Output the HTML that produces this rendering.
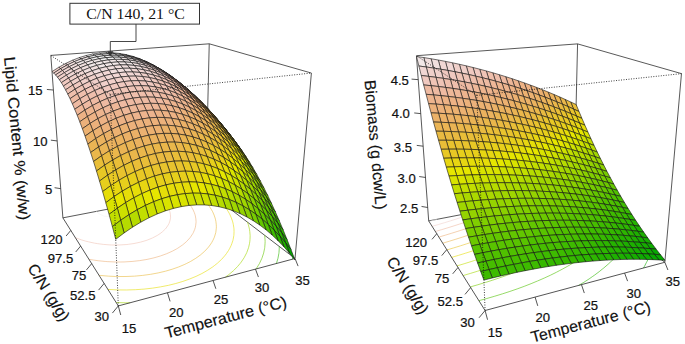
<!DOCTYPE html><html><head><meta charset="utf-8"><style>html,body{margin:0;padding:0;background:#fff}svg{display:block}</style></head><body><svg width="685" height="344" viewBox="0 0 685 344">
<rect width="685" height="344" fill="#fff"/>
<g stroke="#2e2e2e" stroke-width="0.8" fill="none">
<line x1="62.88" y1="217.85" x2="50.82" y2="55.42" />
<line x1="50.82" y1="55.42" x2="209.24" y2="43.81" />
<line x1="209.24" y1="43.81" x2="311.40" y2="73.05" />
<line x1="295.04" y1="258.51" x2="311.40" y2="73.05" />
<line x1="205.76" y1="190.29" x2="209.24" y2="43.81" />
<line x1="62.88" y1="217.85" x2="205.76" y2="190.29" />
<line x1="205.76" y1="190.29" x2="295.04" y2="258.51" />
</g>
<g fill="none" stroke-opacity="0.85" stroke-width="0.7">
<polyline stroke="#00a600" points="292.41,259.22 292.69,256.72"/>
<polyline stroke="#2db600" points="276.42,263.51 277.95,258.35 278.01,258.11 278.84,253.51 278.99,252.43 279.23,248.94 279.28,246.47"/>
<polyline stroke="#63c600" points="256.04,268.98 256.58,268.22 259.50,263.43 259.62,263.19 261.85,258.40 262.05,257.88 263.63,253.11 263.67,252.93 264.62,248.30 264.73,247.52 265.03,243.93 265.11,241.60 265.05,239.79 264.72,235.85 264.64,235.28"/>
<polyline stroke="#a0d600" points="116.20,302.59 125.80,302.80 130.14,302.75"/>
<polyline stroke="#a0d600" points="225.32,277.22 228.98,274.49 233.54,270.61 234.29,269.88 237.61,266.46 240.01,263.61 241.21,262.09 243.97,257.98 244.28,257.48 246.66,252.83 246.77,252.58 248.42,248.07 248.63,247.38 249.49,243.61 249.78,241.83 250.02,239.41 250.14,235.89 250.13,235.42 249.81,231.64 249.47,229.40 249.20,228.04 248.29,224.60 247.49,222.18"/>
<polyline stroke="#e6dd09" points="107.91,289.42 117.33,289.90 119.27,289.93 126.50,289.97 135.42,289.70 141.21,289.31 144.09,289.10 152.45,288.15 160.53,286.89 168.30,285.35 175.74,283.52 182.84,281.41 189.58,279.03 195.96,276.40 201.96,273.52 201.98,273.50 207.51,270.34 212.66,266.94 214.53,265.52 217.35,263.27 221.58,259.36 221.82,259.10 225.27,255.15 226.47,253.53 228.42,250.66 229.65,248.47 230.96,245.85 231.77,243.82 232.82,240.69 233.12,239.47 233.87,235.39 233.90,235.10 234.04,231.55 233.97,228.94 233.87,227.90 233.31,224.42 232.75,222.02 232.48,221.10 231.35,217.93 230.03,214.88 229.48,213.80 228.47,211.96 226.72,209.15 224.81,206.44 222.76,203.83 221.33,202.19"/>
<polyline stroke="#e9ba41" points="99.04,275.31 100.80,275.49 108.29,276.13 115.50,276.47 117.31,276.53 126.05,276.51 134.53,276.15 136.11,276.01 142.70,275.40 150.57,274.32 158.12,272.93 165.33,271.23 172.19,269.23 178.69,266.94 184.79,264.37 186.70,263.43 190.47,261.50 195.71,258.34 199.06,255.98 200.51,254.90 204.79,251.16 205.82,250.09 208.51,247.08 210.10,244.96 211.65,242.67 212.93,240.32 214.10,237.85 214.76,236.03 215.75,232.58 215.86,232.02 216.31,228.26 216.37,226.66 216.29,224.71 215.89,221.33 215.59,219.85 215.14,218.12 214.08,215.05 212.80,212.10 212.44,211.40 211.24,209.28 209.47,206.58 207.52,203.97 205.40,201.46 203.11,199.05 200.66,196.72 198.06,194.47 195.30,192.30"/>
<polyline stroke="#ecb17b" points="88.95,259.28 93.47,260.04 98.18,260.72 105.19,261.45 107.11,261.61 115.73,261.99 120.79,261.99 124.05,261.94 132.04,261.46 139.71,260.62 147.04,259.41 154.00,257.84 160.57,255.93 166.74,253.68 172.49,251.11 176.67,248.85 177.78,248.21 182.55,244.94 184.95,242.94 186.77,241.31 189.81,237.98 190.39,237.27 192.81,233.57 193.27,232.75 194.63,229.54 195.25,227.64 195.64,225.79 196.06,222.26 196.07,221.74 195.88,218.95 195.34,215.80 194.96,214.43 194.41,212.80 193.14,209.95 191.62,207.22 189.87,204.60 188.56,202.94 187.86,202.09 185.61,199.69 183.16,197.38 180.51,195.16"/>
<polyline stroke="#efc4b6" points="75.40,237.75 81.58,239.91 85.25,241.02 88.83,241.92 94.48,243.14 97.64,243.65 103.22,244.39 109.05,244.85 111.54,244.99 119.43,244.98 126.95,244.51 128.35,244.32 134.02,243.52 140.67,242.10 146.88,240.25 147.28,240.10 152.56,237.94 157.71,235.19 160.01,233.63 162.25,231.96 165.39,228.93 166.07,228.17 168.29,224.87 168.94,223.65 169.83,221.20 170.53,218.12 170.56,217.80 170.43,214.65 169.88,211.66 169.43,210.36 168.81,208.85 167.31,206.19 165.48,203.66 163.32,201.25 160.85,198.95"/>
<polyline stroke="#f2f2f2" points="96.25,211.41 98.92,213.81 103.49,215.89 104.49,216.16 112.07,216.73 118.08,215.42 122.35,212.18 122.36,212.17 122.26,209.26 120.49,206.73"/>
</g>
<g stroke="#111" stroke-width="0.6" stroke-linejoin="round">
<polygon fill="#e7cf1c" points="205.18,112.17 210.43,119.25 207.48,117.77 202.25,110.73"/>
<polygon fill="#e8c32e" points="199.82,105.43 205.18,112.17 202.25,110.73 196.92,104.03"/>
<polygon fill="#e7cf1c" points="208.16,113.91 213.43,121.03 210.43,119.25 205.18,112.17"/>
<polygon fill="#eab74b" points="194.36,99.03 199.82,105.43 196.92,104.03 191.48,97.67"/>
<polygon fill="#e8c32e" points="202.78,107.13 208.16,113.91 205.18,112.17 199.82,105.43"/>
<polygon fill="#e7cf1c" points="211.19,115.96 216.48,123.12 213.43,121.03 208.16,113.91"/>
<polygon fill="#ebb25e" points="188.78,92.98 194.36,99.03 191.48,97.67 185.94,91.67"/>
<polygon fill="#eab74b" points="197.29,100.69 202.78,107.13 199.82,105.43 194.36,99.03"/>
<polygon fill="#e7d612" points="214.27,118.32 219.58,125.52 216.48,123.12 211.19,115.96"/>
<polygon fill="#e8c32e" points="205.79,109.14 211.19,115.96 208.16,113.91 202.78,107.13"/>
<polygon fill="#ecb171" points="183.11,87.32 188.78,92.98 185.94,91.67 180.29,86.04"/>
<polygon fill="#ebb25e" points="191.69,94.61 197.29,100.69 194.36,99.03 188.78,92.98"/>
<polygon fill="#e7d612" points="217.40,121.01 222.73,128.23 219.58,125.52 214.27,118.32"/>
<polygon fill="#eab74b" points="200.27,102.66 205.79,109.14 202.78,107.13 197.29,100.69"/>
<polygon fill="#e8c32e" points="208.84,111.47 214.27,118.32 211.19,115.96 205.79,109.14"/>
<polygon fill="#edb285" points="177.33,82.04 183.11,87.32 180.29,86.04 174.55,80.79"/>
<polygon fill="#ecb171" points="185.98,88.91 191.69,94.61 188.78,92.98 183.11,87.32"/>
<polygon fill="#e7d612" points="220.58,124.02 225.93,131.28 222.73,128.23 217.40,121.01"/>
<polygon fill="#ebb25e" points="194.64,96.55 200.27,102.66 197.29,100.69 191.69,94.61"/>
<polygon fill="#e8c32e" points="211.95,114.12 217.40,121.01 214.27,118.32 208.84,111.47"/>
<polygon fill="#e9ba41" points="203.30,104.96 208.84,111.47 205.79,109.14 200.27,102.66"/>
<polygon fill="#eeb798" points="171.46,77.17 177.33,82.04 174.55,80.79 168.71,75.95"/>
<polygon fill="#edb285" points="180.17,83.61 185.98,88.91 183.11,87.32 177.33,82.04"/>
<polygon fill="#ecb171" points="188.90,90.83 194.64,96.55 191.69,94.61 185.98,88.91"/>
<polygon fill="#e6dd09" points="223.81,127.38 229.17,134.65 225.93,131.28 220.58,124.02"/>
<polygon fill="#ebb25e" points="197.65,98.82 203.30,104.96 200.27,102.66 194.64,96.55"/>
<polygon fill="#e8c825" points="215.11,117.11 220.58,124.02 217.40,121.01 211.95,114.12"/>
<polygon fill="#e9ba41" points="206.39,107.59 211.95,114.12 208.84,111.47 203.30,104.96"/>
<polygon fill="#eebaa2" points="165.48,72.73 171.46,77.17 168.71,75.95 162.78,71.53"/>
<polygon fill="#eeb798" points="174.26,78.71 180.17,83.61 177.33,82.04 171.46,77.17"/>
<polygon fill="#edb285" points="183.06,85.50 188.90,90.83 185.98,88.91 180.17,83.61"/>
<polygon fill="#e6dd09" points="227.09,131.08 232.47,138.37 229.17,134.65 223.81,127.38"/>
<polygon fill="#ecb171" points="191.88,93.07 197.65,98.82 194.64,96.55 188.90,90.83"/>
<polygon fill="#e8c825" points="218.32,120.45 223.81,127.38 220.58,124.02 215.11,117.11"/>
<polygon fill="#eab454" points="200.71,101.43 206.39,107.59 203.30,104.96 197.65,98.82"/>
<polygon fill="#e9ba41" points="209.52,110.56 215.11,117.11 211.95,114.12 206.39,107.59"/>
<polygon fill="#efc4b6" points="159.42,68.71 165.48,72.73 162.78,71.53 156.76,67.54"/>
<polygon fill="#eebaa2" points="168.25,74.24 174.26,78.71 171.46,77.17 165.48,72.73"/>
<polygon fill="#eeb798" points="177.11,80.58 183.06,85.50 180.17,83.61 174.26,78.71"/>
<polygon fill="#e6e600" points="230.41,135.13 235.81,142.44 232.47,138.37 227.09,131.08"/>
<polygon fill="#edb285" points="186.01,87.72 191.88,93.07 188.90,90.83 183.06,85.50"/>
<polygon fill="#e7cf1c" points="221.58,124.13 227.09,131.08 223.81,127.38 218.32,120.45"/>
<polygon fill="#ebb167" points="194.91,95.65 200.71,101.43 197.65,98.82 191.88,93.07"/>
<polygon fill="#e9be38" points="212.71,113.87 218.32,120.45 215.11,117.11 209.52,110.56"/>
<polygon fill="#eab454" points="203.82,104.37 209.52,110.56 206.39,107.59 200.71,101.43"/>
<polygon fill="#f0c9c0" points="153.27,65.15 159.42,68.71 156.76,67.54 150.65,63.99"/>
<polygon fill="#efc4b6" points="162.15,70.21 168.25,74.24 165.48,72.73 159.42,68.71"/>
<polygon fill="#eebaa2" points="171.07,76.08 177.11,80.58 174.26,78.71 168.25,74.24"/>
<polygon fill="#d9e300" points="233.79,139.54 239.19,146.86 235.81,142.44 230.41,135.13"/>
<polygon fill="#edb48e" points="180.03,82.78 186.01,87.72 183.06,85.50 177.11,80.58"/>
<polygon fill="#f0d0ca" points="147.04,62.04 153.27,65.15 150.65,63.99 144.46,60.90"/>
<polygon fill="#e7cf1c" points="224.89,128.17 230.41,135.13 227.09,131.08 221.58,124.13"/>
<polygon fill="#ecb17b" points="189.01,90.28 194.91,95.65 191.88,93.07 186.01,87.72"/>
<polygon fill="#e9be38" points="215.95,117.54 221.58,124.13 218.32,120.45 212.71,113.87"/>
<polygon fill="#ebb167" points="198.00,98.58 203.82,104.37 200.71,101.43 194.91,95.65"/>
<polygon fill="#eab74b" points="206.98,107.67 212.71,113.87 209.52,110.56 203.82,104.37"/>
<polygon fill="#f0c9c0" points="155.95,66.62 162.15,70.21 159.42,68.71 153.27,65.15"/>
<polygon fill="#efc4b6" points="164.93,72.03 171.07,76.08 168.25,74.24 162.15,70.21"/>
<polygon fill="#f1d7d4" points="140.72,59.41 147.04,62.04 144.46,60.90 138.19,58.28"/>
<polygon fill="#eebaa2" points="173.94,78.27 180.03,82.78 177.11,80.58 171.07,76.08"/>
<polygon fill="#cee000" points="237.21,144.32 242.63,151.64 239.19,146.86 233.79,139.54"/>
<polygon fill="#edb48e" points="182.99,85.32 189.01,90.28 186.01,87.72 180.03,82.78"/>
<polygon fill="#e7d612" points="228.25,132.57 233.79,139.54 230.41,135.13 224.89,128.17"/>
<polygon fill="#ecb17b" points="192.06,93.19 198.00,98.58 194.91,95.65 189.01,90.28"/>
<polygon fill="#e8c32e" points="219.24,121.56 224.89,128.17 221.58,124.13 215.95,117.54"/>
<polygon fill="#f0d0ca" points="149.67,63.51 155.95,66.62 153.27,65.15 147.04,62.04"/>
<polygon fill="#ebb25e" points="201.14,101.86 206.98,107.67 203.82,104.37 198.00,98.58"/>
<polygon fill="#eab74b" points="210.20,111.32 215.95,117.54 212.71,113.87 206.98,107.67"/>
<polygon fill="#f0c9c0" points="158.69,68.44 164.93,72.03 162.15,70.21 155.95,66.62"/>
<polygon fill="#f1dfde" points="134.33,57.27 140.72,59.41 138.19,58.28 131.85,56.15"/>
<polygon fill="#efbfac" points="167.76,74.20 173.94,78.27 171.07,76.08 164.93,72.03"/>
<polygon fill="#cee000" points="240.67,149.47 246.10,156.79 242.63,151.64 237.21,144.32"/>
<polygon fill="#f1d7d4" points="143.31,60.87 149.67,63.51 147.04,62.04 140.72,59.41"/>
<polygon fill="#eebaa2" points="176.88,80.80 182.99,85.32 180.03,82.78 173.94,78.27"/>
<polygon fill="#e6dd09" points="231.66,137.34 237.21,144.32 233.79,139.54 228.25,132.57"/>
<polygon fill="#edb48e" points="186.02,88.22 192.06,93.19 189.01,90.28 182.99,85.32"/>
<polygon fill="#e8c825" points="222.58,125.96 228.25,132.57 224.89,128.17 219.24,121.56"/>
<polygon fill="#ecb171" points="195.17,96.45 201.14,101.86 198.00,98.58 192.06,93.19"/>
<polygon fill="#e9ba41" points="213.47,115.34 219.24,121.56 215.95,117.54 210.20,111.32"/>
<polygon fill="#ebb25e" points="204.33,105.50 210.20,111.32 206.98,107.67 201.14,101.86"/>
<polygon fill="#f2e8e8" points="127.87,55.63 134.33,57.27 131.85,56.15 125.45,54.50"/>
<polygon fill="#f0d0ca" points="152.37,65.31 158.69,68.44 155.95,66.62 149.67,63.51"/>
<polygon fill="#f0c9c0" points="161.49,70.60 167.76,74.20 164.93,72.03 158.69,68.44"/>
<polygon fill="#f1dfde" points="136.87,58.73 143.31,60.87 140.72,59.41 134.33,57.27"/>
<polygon fill="#c2de00" points="244.19,155.00 249.62,162.32 246.10,156.79 240.67,149.47"/>
<polygon fill="#efbfac" points="170.66,76.72 176.88,80.80 173.94,78.27 167.76,74.20"/>
<polygon fill="#f2e8e8" points="121.35,54.49 127.87,55.63 125.45,54.50 118.97,53.37"/>
<polygon fill="#e6e600" points="235.11,142.50 240.67,149.47 237.21,144.32 231.66,137.34"/>
<polygon fill="#eeb798" points="179.86,83.68 186.02,88.22 182.99,85.32 176.88,80.80"/>
<polygon fill="#f1d7d4" points="145.96,62.67 152.37,65.31 149.67,63.51 143.31,60.87"/>
<polygon fill="#e7cf1c" points="225.97,130.73 231.66,137.34 228.25,132.57 222.58,125.96"/>
<polygon fill="#edb285" points="189.10,91.47 195.17,96.45 192.06,93.19 186.02,88.22"/>
<polygon fill="#e9be38" points="216.79,119.73 222.58,125.96 219.24,121.56 213.47,115.34"/>
<polygon fill="#ecb171" points="198.34,100.09 204.33,105.50 201.14,101.86 195.17,96.45"/>
<polygon fill="#eab454" points="207.57,109.51 213.47,115.34 210.20,111.32 204.33,105.50"/>
<polygon fill="#f2e8e8" points="130.36,57.09 136.87,58.73 134.33,57.27 127.87,55.63"/>
<polygon fill="#f0d0ca" points="155.12,67.47 161.49,70.60 158.69,68.44 152.37,65.31"/>
<polygon fill="#f2f2f2" points="114.76,53.88 121.35,54.49 118.97,53.37 112.44,52.74"/>
<polygon fill="#abd800" points="247.74,160.92 253.19,168.22 249.62,162.32 244.19,155.00"/>
<polygon fill="#efc4b6" points="164.34,73.11 170.66,76.72 167.76,74.20 161.49,70.60"/>
<polygon fill="#f1dfde" points="139.47,60.53 145.96,62.67 143.31,60.87 136.87,58.73"/>
<polygon fill="#d9e300" points="238.61,148.04 244.19,155.00 240.67,149.47 235.11,142.50"/>
<polygon fill="#efbfac" points="173.61,79.60 179.86,83.68 176.88,80.80 170.66,76.72"/>
<polygon fill="#f2e8e8" points="123.78,55.96 130.36,57.09 127.87,55.63 121.35,54.49"/>
<polygon fill="#e7d612" points="229.41,135.89 235.11,142.50 231.66,137.34 225.97,130.73"/>
<polygon fill="#eeb798" points="182.91,86.93 189.10,91.47 186.02,88.22 179.86,83.68"/>
<polygon fill="#f2f2f2" points="108.12,53.80 114.76,53.88 112.44,52.74 105.86,52.65"/>
<polygon fill="#e9be38" points="220.16,124.51 225.97,130.73 222.58,125.96 216.79,119.73"/>
<polygon fill="#edb285" points="192.23,95.10 198.34,100.09 195.17,96.45 189.10,91.47"/>
<polygon fill="#f1d7d4" points="148.67,64.82 155.12,67.47 152.37,65.31 145.96,62.67"/>
<polygon fill="#eab74b" points="210.87,113.90 216.79,119.73 213.47,115.34 207.57,109.51"/>
<polygon fill="#ebb167" points="201.56,104.09 207.57,109.51 204.33,105.50 198.34,100.09"/>
<polygon fill="#f0d0ca" points="157.93,69.98 164.34,73.11 161.49,70.60 155.12,67.47"/>
<polygon fill="#f2e8e8" points="132.91,58.89 139.47,60.53 136.87,58.73 130.36,57.09"/>
<polygon fill="#a0d600" points="251.35,167.23 256.80,174.52 253.19,168.22 247.74,160.92"/>
<polygon fill="#f2f2f2" points="117.14,55.36 123.78,55.96 121.35,54.49 114.76,53.88"/>
<polygon fill="#f2f2f2" points="101.43,54.25 108.12,53.80 105.86,52.65 99.23,53.08"/>
<polygon fill="#efc4b6" points="167.25,75.98 173.61,79.60 170.66,76.72 164.34,73.11"/>
<polygon fill="#cee000" points="242.16,153.97 247.74,160.92 244.19,155.00 238.61,148.04"/>
<polygon fill="#f1dfde" points="142.13,62.68 148.67,64.82 145.96,62.67 139.47,60.53"/>
<polygon fill="#eebaa2" points="176.62,82.85 182.91,86.93 179.86,83.68 173.61,79.60"/>
<polygon fill="#e6dd09" points="232.90,141.44 238.61,148.04 235.11,142.50 229.41,135.89"/>
<polygon fill="#edb48e" points="186.01,90.56 192.23,95.10 189.10,91.47 182.91,86.93"/>
<polygon fill="#e8c32e" points="223.58,129.67 229.41,135.89 225.97,130.73 220.16,124.51"/>
<polygon fill="#ecb17b" points="195.42,99.11 201.56,104.09 198.34,100.09 192.23,95.10"/>
<polygon fill="#f2e8e8" points="126.28,57.77 132.91,58.89 130.36,57.09 123.78,55.96"/>
<polygon fill="#eab74b" points="214.22,118.68 220.16,124.51 216.79,119.73 210.87,113.90"/>
<polygon fill="#ebb25e" points="204.83,108.48 210.87,113.90 207.57,109.51 201.56,104.09"/>
<polygon fill="#f2f2f2" points="94.70,55.26 101.43,54.25 99.23,53.08 92.56,54.06"/>
<polygon fill="#f1d7d4" points="151.43,67.33 157.93,69.98 155.12,67.47 148.67,64.82"/>
<polygon fill="#f2f2f2" points="110.44,55.29 117.14,55.36 114.76,53.88 108.12,53.80"/>
<polygon fill="#95d300" points="254.99,173.95 260.45,181.21 256.80,174.52 251.35,167.23"/>
<polygon fill="#f0c9c0" points="160.80,72.85 167.25,75.98 164.34,73.11 157.93,69.98"/>
<polygon fill="#f1dfde" points="135.52,61.05 142.13,62.68 139.47,60.53 132.91,58.89"/>
<polygon fill="#c2de00" points="245.75,160.30 251.35,167.23 247.74,160.92 242.16,153.97"/>
<polygon fill="#f2f2f2" points="87.93,56.81 94.70,55.26 92.56,54.06 85.85,55.58"/>
<polygon fill="#efbfac" points="170.22,79.23 176.62,82.85 173.61,79.60 167.25,75.98"/>
<polygon fill="#f2f2f2" points="119.58,57.19 126.28,57.77 123.78,55.96 117.14,55.36"/>
<polygon fill="#f2f2f2" points="103.69,55.77 110.44,55.29 108.12,53.80 101.43,54.25"/>
<polygon fill="#e6e600" points="236.43,147.38 242.16,153.97 238.61,148.04 232.90,141.44"/>
<polygon fill="#eebaa2" points="179.68,86.47 186.01,90.56 182.91,86.93 176.62,82.85"/>
<polygon fill="#f1d7d4" points="144.85,65.20 151.43,67.33 148.67,64.82 142.13,62.68"/>
<polygon fill="#e8c825" points="227.05,135.23 232.90,141.44 229.41,135.89 223.58,129.67"/>
<polygon fill="#edb285" points="189.17,94.56 195.42,99.11 192.23,95.10 186.01,90.56"/>
<polygon fill="#e9ba41" points="217.62,123.85 223.58,129.67 220.16,124.51 214.22,118.68"/>
<polygon fill="#ecb171" points="198.66,103.50 204.83,108.48 201.56,104.09 195.42,99.11"/>
<polygon fill="#ebb25e" points="208.15,113.27 214.22,118.68 210.87,113.90 204.83,108.48"/>
<polygon fill="#f2e8e8" points="81.13,58.93 87.93,56.81 85.85,55.58 79.12,57.66"/>
<polygon fill="#8bd000" points="258.67,181.06 264.13,188.30 260.45,181.21 254.99,173.95"/>
<polygon fill="#f2e8e8" points="128.83,59.94 135.52,61.05 132.91,58.89 126.28,57.77"/>
<polygon fill="#f0d0ca" points="154.26,70.21 160.80,72.85 157.93,69.98 151.43,67.33"/>
<polygon fill="#f2f2f2" points="96.90,56.80 103.69,55.77 101.43,54.25 94.70,55.26"/>
<polygon fill="#f2f2f2" points="112.82,57.14 119.58,57.19 117.14,55.36 110.44,55.29"/>
<polygon fill="#abd800" points="249.39,167.03 254.99,173.95 251.35,167.23 245.75,160.30"/>
<polygon fill="#f0c9c0" points="163.73,76.10 170.22,79.23 167.25,75.98 160.80,72.85"/>
<polygon fill="#f2e8e8" points="74.30,61.61 81.13,58.93 79.12,57.66 72.36,60.29"/>
<polygon fill="#f1dfde" points="138.19,63.58 144.85,65.20 142.13,62.68 135.52,61.05"/>
<polygon fill="#d9e300" points="240.01,153.73 245.75,160.30 242.16,153.97 236.43,147.38"/>
<polygon fill="#efbfac" points="173.25,82.86 179.68,86.47 176.62,82.85 170.22,79.23"/>
<polygon fill="#f2f2f2" points="90.07,58.39 96.90,56.80 94.70,55.26 87.93,56.81"/>
<polygon fill="#f2e8e8" points="122.08,59.38 128.83,59.94 126.28,57.77 119.58,57.19"/>
<polygon fill="#e7d612" points="230.57,141.19 236.43,147.38 232.90,141.44 227.05,135.23"/>
<polygon fill="#eeb798" points="182.81,90.48 189.17,94.56 186.01,90.56 179.68,86.47"/>
<polygon fill="#f2f2f2" points="106.02,57.64 112.82,57.14 110.44,55.29 103.69,55.77"/>
<polygon fill="#f1dfde" points="67.46,64.85 74.30,61.61 72.36,60.29 65.59,63.49"/>
<polygon fill="#e9be38" points="221.07,129.42 227.05,135.23 223.58,129.67 217.62,123.85"/>
<polygon fill="#f1d7d4" points="147.63,68.08 154.26,70.21 151.43,67.33 144.85,65.20"/>
<polygon fill="#edb285" points="192.38,98.96 198.66,103.50 195.42,99.11 189.17,94.56"/>
<polygon fill="#76cb00" points="262.40,188.59 267.86,195.79 264.13,188.30 258.67,181.06"/>
<polygon fill="#eab454" points="211.53,118.44 217.62,123.85 214.22,118.68 208.15,113.27"/>
<polygon fill="#ebb167" points="201.96,108.29 208.15,113.27 204.83,108.48 198.66,103.50"/>
<polygon fill="#f2e8e8" points="83.20,60.55 90.07,58.39 87.93,56.81 81.13,58.93"/>
<polygon fill="#f1d7d4" points="60.61,68.67 67.46,64.85 65.59,63.49 58.80,67.25"/>
<polygon fill="#f0d0ca" points="157.14,73.47 163.73,76.10 160.80,72.85 154.26,70.21"/>
<polygon fill="#f2e8e8" points="131.45,62.49 138.19,63.58 135.52,61.05 128.83,59.94"/>
<polygon fill="#a0d600" points="253.07,174.18 258.67,181.06 254.99,173.95 249.39,167.03"/>
<polygon fill="#f2f2f2" points="99.16,58.71 106.02,57.64 103.69,55.77 96.90,56.80"/>
<polygon fill="#f2f2f2" points="115.27,59.35 122.08,59.38 119.58,57.19 112.82,57.14"/>
<polygon fill="#efc4b6" points="166.72,79.74 173.25,82.86 170.22,79.23 163.73,76.10"/>
<polygon fill="#cee000" points="243.64,160.50 249.39,167.03 245.75,160.30 240.01,153.73"/>
<polygon fill="#f0d0ca" points="53.76,73.06 60.61,68.67 58.80,67.25 52.02,71.58"/>
<polygon fill="#f2e8e8" points="76.31,63.27 83.20,60.55 81.13,58.93 74.30,61.61"/>
<polygon fill="#f1dfde" points="140.92,66.48 147.63,68.08 144.85,65.20 138.19,63.58"/>
<polygon fill="#eebaa2" points="176.34,86.88 182.81,90.48 179.68,86.47 173.25,82.86"/>
<polygon fill="#e6dd09" points="234.14,147.56 240.01,153.73 236.43,147.38 230.57,141.19"/>
<polygon fill="#6cc800" points="266.16,196.53 271.63,203.69 267.86,195.79 262.40,188.59"/>
<polygon fill="#edb48e" points="185.99,94.89 192.38,98.96 189.17,94.56 182.81,90.48"/>
<polygon fill="#e8c32e" points="224.57,135.40 230.57,141.19 227.05,135.23 221.07,129.42"/>
<polygon fill="#f2f2f2" points="92.27,60.33 99.16,58.71 96.90,56.80 90.07,58.39"/>
<polygon fill="#f2e8e8" points="124.64,61.94 131.45,62.49 128.83,59.94 122.08,59.38"/>
<polygon fill="#ecb17b" points="195.65,103.76 201.96,108.29 198.66,103.50 192.38,98.96"/>
<polygon fill="#eab74b" points="214.96,124.03 221.07,129.42 217.62,123.85 211.53,118.44"/>
<polygon fill="#ebb25e" points="205.31,113.48 211.53,118.44 208.15,113.27 201.96,108.29"/>
<polygon fill="#f2f2f2" points="108.40,59.88 115.27,59.35 112.82,57.14 106.02,57.64"/>
<polygon fill="#f0d0ca" points="150.47,71.35 157.14,73.47 154.26,70.21 147.63,68.08"/>
<polygon fill="#f1dfde" points="69.40,66.57 76.31,63.27 74.30,61.61 67.46,64.85"/>
<polygon fill="#95d300" points="256.79,181.74 262.40,188.59 258.67,181.06 253.07,174.18"/>
<polygon fill="#f0c9c0" points="160.09,77.12 166.72,79.74 163.73,76.10 157.14,73.47"/>
<polygon fill="#f1dfde" points="134.13,65.40 140.92,66.48 138.19,63.58 131.45,62.49"/>
<polygon fill="#f2e8e8" points="85.34,62.53 92.27,60.33 90.07,58.39 83.20,60.55"/>
<polygon fill="#f1d7d4" points="62.48,70.45 69.40,66.57 67.46,64.85 60.61,68.67"/>
<polygon fill="#b6db00" points="247.31,167.67 253.07,174.18 249.39,167.03 243.64,160.50"/>
<polygon fill="#f2e8e8" points="117.77,61.94 124.64,61.94 122.08,59.38 115.27,59.35"/>
<polygon fill="#f2f2f2" points="101.49,60.98 108.40,59.88 106.02,57.64 99.16,58.71"/>
<polygon fill="#efbfac" points="169.77,83.77 176.34,86.88 173.25,82.86 166.72,79.74"/>
<polygon fill="#59c300" points="269.97,204.89 275.43,212.00 271.63,203.69 266.16,196.53"/>
<polygon fill="#e6e600" points="237.75,154.35 243.64,160.50 240.01,153.73 234.14,147.56"/>
<polygon fill="#f0d0ca" points="55.56,74.90 62.48,70.45 60.61,68.67 53.76,73.06"/>
<polygon fill="#eeb798" points="179.48,91.30 185.99,94.89 182.81,90.48 176.34,86.88"/>
<polygon fill="#f1d7d4" points="143.71,69.76 150.47,71.35 147.63,68.08 140.92,66.48"/>
<polygon fill="#e7cf1c" points="228.12,141.79 234.14,147.56 230.57,141.19 224.57,135.40"/>
<polygon fill="#f2e8e8" points="78.38,65.30 85.34,62.53 83.20,60.55 76.31,63.27"/>
<polygon fill="#edb285" points="189.23,99.70 195.65,103.76 192.38,98.96 185.99,94.89"/>
<polygon fill="#e9be38" points="218.44,130.03 224.57,135.40 221.07,129.42 214.96,124.03"/>
<polygon fill="#ecb171" points="198.98,108.96 205.31,113.48 201.96,108.29 195.65,103.76"/>
<polygon fill="#eab454" points="208.72,119.08 214.96,124.03 211.53,118.44 205.31,113.48"/>
<polygon fill="#80ce00" points="260.55,189.73 266.16,196.53 262.40,188.59 256.79,181.74"/>
<polygon fill="#f2e8e8" points="127.27,64.88 134.13,65.40 131.45,62.49 124.64,61.94"/>
<polygon fill="#f2e8e8" points="94.53,62.64 101.49,60.98 99.16,58.71 92.27,60.33"/>
<polygon fill="#f0d0ca" points="153.37,75.02 160.09,77.12 157.14,73.47 150.47,71.35"/>
<polygon fill="#f2e8e8" points="110.85,62.50 117.77,61.94 115.27,59.35 108.40,59.88"/>
<polygon fill="#f1dfde" points="71.41,68.65 78.38,65.30 76.31,63.27 69.40,66.57"/>
<polygon fill="#abd800" points="251.02,175.27 256.79,181.74 253.07,174.18 247.31,167.67"/>
<polygon fill="#efc4b6" points="163.09,81.16 169.77,83.77 166.72,79.74 160.09,77.12"/>
<polygon fill="#47be00" points="273.80,213.68 279.26,220.73 275.43,212.00 269.97,204.89"/>
<polygon fill="#f1dfde" points="136.87,68.71 143.71,69.76 140.92,66.48 134.13,65.40"/>
<polygon fill="#d9e300" points="241.41,161.56 247.31,167.67 243.64,160.50 237.75,154.35"/>
<polygon fill="#f2e8e8" points="87.54,64.88 94.53,62.64 92.27,60.33 85.34,62.53"/>
<polygon fill="#f1d7d4" points="64.42,72.59 71.41,68.65 69.40,66.57 62.48,70.45"/>
<polygon fill="#efbfac" points="172.87,88.20 179.48,91.30 176.34,86.88 169.77,83.77"/>
<polygon fill="#f2e8e8" points="120.34,64.90 127.27,64.88 124.64,61.94 117.77,61.94"/>
<polygon fill="#f2e8e8" points="103.87,63.63 110.85,62.50 108.40,59.88 101.49,60.98"/>
<polygon fill="#e7d612" points="231.72,148.61 237.75,154.35 234.14,147.56 228.12,141.79"/>
<polygon fill="#eeb798" points="182.69,96.12 189.23,99.70 185.99,94.89 179.48,91.30"/>
<polygon fill="#6cc800" points="264.35,198.14 269.97,204.89 266.16,196.53 260.55,189.73"/>
<polygon fill="#e8c32e" points="221.97,136.45 228.12,141.79 224.57,135.40 218.44,130.03"/>
<polygon fill="#f1d7d4" points="146.56,73.44 153.37,75.02 150.47,71.35 143.71,69.76"/>
<polygon fill="#ecb17b" points="192.52,104.92 198.98,108.96 195.65,103.76 189.23,99.70"/>
<polygon fill="#eab74b" points="212.18,125.10 218.44,130.03 214.96,124.03 208.72,119.08"/>
<polygon fill="#ebb167" points="202.35,114.59 208.72,119.08 205.31,113.48 198.98,108.96"/>
<polygon fill="#f0d0ca" points="57.43,77.10 64.42,72.59 62.48,70.45 55.56,74.90"/>
<polygon fill="#f1dfde" points="80.52,67.70 87.54,64.88 85.34,62.53 78.38,65.30"/>
<polygon fill="#95d300" points="254.78,183.30 260.55,189.73 256.79,181.74 251.02,175.27"/>
<polygon fill="#f1dfde" points="129.96,68.21 136.87,68.71 134.13,65.40 127.27,64.88"/>
<polygon fill="#f0c9c0" points="156.33,79.08 163.09,81.16 160.09,77.12 153.37,75.02"/>
<polygon fill="#36b800" points="277.68,222.89 283.13,229.89 279.26,220.73 273.80,213.68"/>
<polygon fill="#f2e8e8" points="96.86,65.33 103.87,63.63 101.49,60.98 94.53,62.64"/>
<polygon fill="#f2e8e8" points="113.36,65.50 120.34,64.90 117.77,61.94 110.85,62.50"/>
<polygon fill="#f1dfde" points="73.47,71.11 80.52,67.70 78.38,65.30 71.41,68.65"/>
<polygon fill="#c2de00" points="245.11,169.20 251.02,175.27 247.31,167.67 241.41,161.56"/>
<polygon fill="#efc4b6" points="166.16,85.61 172.87,88.20 169.77,83.77 163.09,81.16"/>
<polygon fill="#f1d7d4" points="139.67,72.42 146.56,73.44 143.71,69.76 136.87,68.71"/>
<polygon fill="#63c600" points="268.19,206.98 273.80,213.68 269.97,204.89 264.35,198.14"/>
<polygon fill="#e6dd09" points="235.37,155.85 241.41,161.56 237.75,154.35 231.72,148.61"/>
<polygon fill="#eebaa2" points="176.04,93.05 182.69,96.12 179.48,91.30 172.87,88.20"/>
<polygon fill="#f2e8e8" points="89.80,67.62 96.86,65.33 94.53,62.64 87.54,64.88"/>
<polygon fill="#e8c825" points="225.55,143.29 231.72,148.61 228.12,141.79 221.97,136.45"/>
<polygon fill="#f1d7d4" points="66.42,75.10 73.47,71.11 71.41,68.65 64.42,72.59"/>
<polygon fill="#f1dfde" points="122.98,68.27 129.96,68.21 127.27,64.88 120.34,64.90"/>
<polygon fill="#edb48e" points="185.94,101.36 192.52,104.92 189.23,99.70 182.69,96.12"/>
<polygon fill="#f2e8e8" points="106.33,66.66 113.36,65.50 110.85,62.50 103.87,63.63"/>
<polygon fill="#e9ba41" points="215.69,131.54 221.97,136.45 218.44,130.03 212.18,125.10"/>
<polygon fill="#ecb171" points="195.87,110.56 202.35,114.59 198.98,108.96 192.52,104.92"/>
<polygon fill="#ebb25e" points="205.79,120.63 212.18,125.10 208.72,119.08 202.35,114.59"/>
<polygon fill="#f0d0ca" points="149.47,77.53 156.33,79.08 153.37,75.02 146.56,73.44"/>
<polygon fill="#8bd000" points="258.58,191.76 264.35,198.14 260.55,189.73 254.78,183.30"/>
<polygon fill="#2db600" points="281.58,232.54 287.03,239.46 283.13,229.89 277.68,222.89"/>
<polygon fill="#f0d0ca" points="59.36,79.69 66.42,75.10 64.42,72.59 57.43,77.10"/>
<polygon fill="#f1dfde" points="82.71,70.49 89.80,67.62 87.54,64.88 80.52,67.70"/>
<polygon fill="#efc4b6" points="159.35,83.55 166.16,85.61 163.09,81.16 156.33,79.08"/>
<polygon fill="#f1d7d4" points="132.71,71.94 139.67,72.42 136.87,68.71 129.96,68.21"/>
<polygon fill="#b6db00" points="248.86,177.27 254.78,183.30 251.02,175.27 245.11,169.20"/>
<polygon fill="#f2e8e8" points="99.25,68.41 106.33,66.66 103.87,63.63 96.86,65.33"/>
<polygon fill="#f1dfde" points="115.94,68.89 122.98,68.27 120.34,64.90 113.36,65.50"/>
<polygon fill="#50c000" points="272.06,216.26 277.68,222.89 273.80,213.68 268.19,206.98"/>
<polygon fill="#efbfac" points="169.29,90.48 176.04,93.05 172.87,88.20 166.16,85.61"/>
<polygon fill="#d9e300" points="239.06,163.53 245.11,169.20 241.41,161.56 235.37,155.85"/>
<polygon fill="#f1d7d4" points="75.61,73.95 82.71,70.49 80.52,67.70 73.47,71.11"/>
<polygon fill="#f0d0ca" points="142.54,76.53 149.47,77.53 146.56,73.44 139.67,72.42"/>
<polygon fill="#eeb798" points="179.26,98.31 185.94,101.36 182.69,96.12 176.04,93.05"/>
<polygon fill="#e7cf1c" points="229.18,150.57 235.37,155.85 231.72,148.61 225.55,143.29"/>
<polygon fill="#1db000" points="285.52,242.62 290.96,249.47 287.03,239.46 281.58,232.54"/>
<polygon fill="#edb285" points="189.26,107.03 195.87,110.56 192.52,104.92 185.94,101.36"/>
<polygon fill="#76cb00" points="262.41,200.66 268.19,206.98 264.35,198.14 258.58,191.76"/>
<polygon fill="#e9be38" points="219.25,138.42 225.55,143.29 221.97,136.45 215.69,131.54"/>
<polygon fill="#ebb167" points="199.27,116.63 205.79,120.63 202.35,114.59 195.87,110.56"/>
<polygon fill="#eab454" points="209.27,127.10 215.69,131.54 212.18,125.10 205.79,120.63"/>
<polygon fill="#f1dfde" points="92.13,70.74 99.25,68.41 96.86,65.33 89.80,67.62"/>
<polygon fill="#f1dfde" points="125.67,72.03 132.71,71.94 129.96,68.21 122.98,68.27"/>
<polygon fill="#f1d7d4" points="68.48,78.01 75.61,73.95 73.47,71.11 66.42,75.10"/>
<polygon fill="#f1dfde" points="108.84,70.10 115.94,68.89 113.36,65.50 106.33,66.66"/>
<polygon fill="#f0c9c0" points="152.45,82.03 159.35,83.55 156.33,79.08 149.47,77.53"/>
<polygon fill="#a0d600" points="252.65,185.78 258.58,191.76 254.78,183.30 248.86,177.27"/>
<polygon fill="#3ebb00" points="275.97,225.97 281.58,232.54 277.68,222.89 272.06,216.26"/>
<polygon fill="#efc4b6" points="162.43,88.45 169.29,90.48 166.16,85.61 159.35,83.55"/>
<polygon fill="#f0d0ca" points="61.35,82.66 68.48,78.01 66.42,75.10 59.36,79.69"/>
<polygon fill="#f1dfde" points="84.98,73.67 92.13,70.74 89.80,67.62 82.71,70.49"/>
<polygon fill="#f1d7d4" points="135.52,76.08 142.54,76.53 139.67,72.42 132.71,71.94"/>
<polygon fill="#cee000" points="242.79,171.65 248.86,177.27 245.11,169.20 239.06,163.53"/>
<polygon fill="#07a800" points="289.48,253.14 294.92,259.90 290.96,249.47 285.52,242.62"/>
<polygon fill="#f1dfde" points="101.70,71.89 108.84,70.10 106.33,66.66 99.25,68.41"/>
<polygon fill="#eebaa2" points="172.47,95.77 179.26,98.31 176.04,93.05 169.29,90.48"/>
<polygon fill="#f1dfde" points="118.58,72.70 125.67,72.03 122.98,68.27 115.94,68.89"/>
<polygon fill="#e6dd09" points="232.86,158.29 239.06,163.53 235.37,155.85 229.18,150.57"/>
<polygon fill="#63c600" points="266.28,210.00 272.06,216.26 268.19,206.98 262.41,200.66"/>
<polygon fill="#edb48e" points="182.54,104.00 189.26,107.03 185.94,101.36 179.26,98.31"/>
<polygon fill="#e8c825" points="222.86,145.74 229.18,150.57 225.55,143.29 219.25,138.42"/>
<polygon fill="#f0d0ca" points="145.46,81.06 152.45,82.03 149.47,77.53 142.54,76.53"/>
<polygon fill="#f1d7d4" points="77.80,77.19 84.98,73.67 82.71,70.49 75.61,73.95"/>
<polygon fill="#ecb171" points="192.63,113.13 199.27,116.63 195.87,110.56 189.26,107.03"/>
<polygon fill="#e9ba41" points="212.81,134.02 219.25,138.42 215.69,131.54 209.27,127.10"/>
<polygon fill="#ebb25e" points="202.73,123.14 209.27,127.10 205.79,120.63 199.27,116.63"/>
<polygon fill="#8bd000" points="256.48,194.74 262.41,200.66 258.58,191.76 252.65,185.78"/>
<polygon fill="#2db600" points="279.91,236.13 285.52,242.62 281.58,232.54 275.97,225.97"/>
<polygon fill="#f1d7d4" points="128.43,76.21 135.52,76.08 132.71,71.94 125.67,72.03"/>
<polygon fill="#f1dfde" points="94.52,74.28 101.70,71.89 99.25,68.41 92.13,70.74"/>
<polygon fill="#efc4b6" points="155.49,86.95 162.43,88.45 159.35,83.55 152.45,82.03"/>
<polygon fill="#f1dfde" points="111.43,73.94 118.58,72.70 115.94,68.89 108.84,70.10"/>
<polygon fill="#f0d0ca" points="70.61,81.31 77.80,77.19 75.61,73.95 68.48,78.01"/>
<polygon fill="#b6db00" points="246.57,180.21 252.65,185.78 248.86,177.27 242.79,171.65"/>
<polygon fill="#efbfac" points="165.58,93.77 172.47,95.77 169.29,90.48 162.43,88.45"/>
<polygon fill="#50c000" points="270.19,219.79 275.97,225.97 272.06,216.26 266.28,210.00"/>
<polygon fill="#f0d0ca" points="138.40,80.65 145.46,81.06 142.54,76.53 135.52,76.08"/>
<polygon fill="#f0c9c0" points="63.41,86.04 70.61,81.31 68.48,78.01 61.35,82.66"/>
<polygon fill="#f1d7d4" points="87.31,77.26 94.52,74.28 92.13,70.74 84.98,73.67"/>
<polygon fill="#e6e600" points="236.58,166.46 242.79,171.65 239.06,163.53 232.86,158.29"/>
<polygon fill="#eeb798" points="175.71,101.50 182.54,104.00 179.26,98.31 172.47,95.77"/>
<polygon fill="#f1d7d4" points="121.28,76.92 128.43,76.21 125.67,72.03 118.58,72.70"/>
<polygon fill="#e7cf1c" points="226.52,153.50 232.86,158.29 229.18,150.57 222.86,145.74"/>
<polygon fill="#f1d7d4" points="104.22,75.78 111.43,73.94 108.84,70.10 101.70,71.89"/>
<polygon fill="#edb285" points="185.88,110.14 192.63,113.13 189.26,107.03 182.54,104.00"/>
<polygon fill="#1db000" points="283.88,246.73 289.48,253.14 285.52,242.62 279.91,236.13"/>
<polygon fill="#e9be38" points="216.40,141.37 222.86,145.74 219.25,138.42 212.81,134.02"/>
<polygon fill="#ebb167" points="196.06,119.67 202.73,123.14 199.27,116.63 192.63,113.13"/>
<polygon fill="#76cb00" points="260.35,204.14 266.28,210.00 262.41,200.66 256.48,194.74"/>
<polygon fill="#eab454" points="206.24,130.09 212.81,134.02 209.27,127.10 202.73,123.14"/>
<polygon fill="#f0c9c0" points="148.46,86.01 155.49,86.95 152.45,82.03 145.46,81.06"/>
<polygon fill="#f0d0ca" points="80.07,80.84 87.31,77.26 84.98,73.67 77.80,77.19"/>
<polygon fill="#a0d600" points="250.40,189.23 256.48,194.74 252.65,185.78 246.57,180.21"/>
<polygon fill="#f0d0ca" points="131.26,80.81 138.40,80.65 135.52,76.08 128.43,76.21"/>
<polygon fill="#efbfac" points="158.59,92.31 165.58,93.77 162.43,88.45 155.49,86.95"/>
<polygon fill="#f1d7d4" points="96.98,78.22 104.22,75.78 101.70,71.89 94.52,74.28"/>
<polygon fill="#3ebb00" points="274.13,230.02 279.91,236.13 275.97,225.97 270.19,219.79"/>
<polygon fill="#f1d7d4" points="114.07,78.21 121.28,76.92 118.58,72.70 111.43,73.94"/>
<polygon fill="#f0d0ca" points="72.81,85.03 80.07,80.84 77.80,77.19 70.61,81.31"/>
<polygon fill="#cee000" points="240.35,175.08 246.57,180.21 242.79,171.65 236.58,166.46"/>
<polygon fill="#eebaa2" points="168.78,99.53 175.71,101.50 172.47,95.77 165.58,93.77"/>
<polygon fill="#f0c9c0" points="141.34,85.64 148.46,86.01 145.46,81.06 138.40,80.65"/>
<polygon fill="#e6dd09" points="230.22,161.72 236.58,166.46 232.86,158.29 226.52,153.50"/>
<polygon fill="#edb48e" points="179.01,107.66 185.88,110.14 182.54,104.00 175.71,101.50"/>
<polygon fill="#63c600" points="264.26,214.00 270.19,219.79 266.28,210.00 260.35,204.14"/>
<polygon fill="#f0d0ca" points="89.70,81.26 96.98,78.22 94.52,74.28 87.31,77.26"/>
<polygon fill="#f0c9c0" points="65.54,89.82 72.81,85.03 70.61,81.31 63.41,86.04"/>
<polygon fill="#e8c825" points="220.03,149.18 226.52,153.50 222.86,145.74 216.40,141.37"/>
<polygon fill="#ecb171" points="189.28,116.71 196.06,119.67 192.63,113.13 185.88,110.14"/>
<polygon fill="#e9ba41" points="209.80,137.49 216.40,141.37 212.81,134.02 206.24,130.09"/>
<polygon fill="#f0d0ca" points="124.05,81.56 131.26,80.81 128.43,76.21 121.28,76.92"/>
<polygon fill="#ebb25e" points="199.54,126.66 206.24,130.09 202.73,123.14 196.06,119.67"/>
<polygon fill="#f1d7d4" points="106.81,80.10 114.07,78.21 111.43,73.94 104.22,75.78"/>
<polygon fill="#efc4b6" points="151.51,91.41 158.59,92.31 155.49,86.95 148.46,86.01"/>
<polygon fill="#8bd000" points="254.26,198.70 260.35,204.14 256.48,194.74 250.40,189.23"/>
<polygon fill="#2db600" points="278.11,240.71 283.88,246.73 279.91,236.13 274.13,230.02"/>
<polygon fill="#f0d0ca" points="82.40,84.91 89.70,81.26 87.31,77.26 80.07,80.84"/>
<polygon fill="#eebaa2" points="161.75,98.10 168.78,99.53 165.58,93.77 158.59,92.31"/>
<polygon fill="#f0c9c0" points="134.15,85.85 141.34,85.64 138.40,80.65 131.26,80.81"/>
<polygon fill="#b6db00" points="244.16,184.15 250.40,189.23 246.57,180.21 240.35,175.08"/>
<polygon fill="#f0d0ca" points="99.51,82.59 106.81,80.10 104.22,75.78 96.98,78.22"/>
<polygon fill="#f0d0ca" points="116.79,82.90 124.05,81.56 121.28,76.92 114.07,78.21"/>
<polygon fill="#50c000" points="268.20,224.31 274.13,230.02 270.19,219.79 264.26,214.00"/>
<polygon fill="#edb48e" points="172.04,105.73 179.01,107.66 175.71,101.50 168.78,99.53"/>
<polygon fill="#e6e600" points="233.98,170.39 240.35,175.08 236.58,166.46 230.22,161.72"/>
<polygon fill="#f0c9c0" points="75.07,89.16 82.40,84.91 80.07,80.84 72.81,85.03"/>
<polygon fill="#ecb17b" points="182.37,114.28 189.28,116.71 185.88,110.14 179.01,107.66"/>
<polygon fill="#e7cf1c" points="223.72,157.45 230.22,161.72 226.52,153.50 220.03,149.18"/>
<polygon fill="#efc4b6" points="144.34,91.08 151.51,91.41 148.46,86.01 141.34,85.64"/>
<polygon fill="#ebb167" points="192.73,123.74 199.54,126.66 196.06,119.67 189.28,116.71"/>
<polygon fill="#e9be38" points="213.42,145.34 220.03,149.18 216.40,141.37 209.80,137.49"/>
<polygon fill="#eab454" points="203.08,134.10 209.80,137.49 206.24,130.09 199.54,126.66"/>
<polygon fill="#76cb00" points="258.16,208.62 264.26,214.00 260.35,204.14 254.26,198.70"/>
<polygon fill="#f0d0ca" points="92.17,85.69 99.51,82.59 96.98,78.22 89.70,81.26"/>
<polygon fill="#efc4b6" points="67.74,94.03 75.07,89.16 72.81,85.03 65.54,89.82"/>
<polygon fill="#f0c9c0" points="126.89,86.64 134.15,85.85 131.26,80.81 124.05,81.56"/>
<polygon fill="#f0d0ca" points="109.46,84.85 116.79,82.90 114.07,78.21 106.81,80.10"/>
<polygon fill="#efbfac" points="154.62,97.24 161.75,98.10 158.59,92.31 151.51,91.41"/>
<polygon fill="#a0d600" points="248.01,193.69 254.26,198.70 250.40,189.23 244.16,184.15"/>
<polygon fill="#3ebb00" points="272.17,235.08 278.11,240.71 274.13,230.02 268.20,224.31"/>
<polygon fill="#eeb798" points="164.97,104.35 172.04,105.73 168.78,99.53 161.75,98.10"/>
<polygon fill="#f0c9c0" points="84.80,89.40 92.17,85.69 89.70,81.26 82.40,84.91"/>
<polygon fill="#efc4b6" points="137.10,91.33 144.34,91.08 141.34,85.64 134.15,85.85"/>
<polygon fill="#cee000" points="237.77,179.53 244.16,184.15 240.35,175.08 233.98,170.39"/>
<polygon fill="#edb285" points="175.37,112.39 182.37,114.28 179.01,107.66 172.04,105.73"/>
<polygon fill="#f0d0ca" points="102.10,87.39 109.46,84.85 106.81,80.10 99.51,82.59"/>
<polygon fill="#f0c9c0" points="119.56,88.04 126.89,86.64 124.05,81.56 116.79,82.90"/>
<polygon fill="#e6dd09" points="227.46,166.18 233.98,170.39 230.22,161.72 223.72,157.45"/>
<polygon fill="#ecb171" points="185.79,121.35 192.73,123.74 189.28,116.71 182.37,114.28"/>
<polygon fill="#63c600" points="262.10,219.02 268.20,224.31 264.26,214.00 258.16,208.62"/>
<polygon fill="#e8c825" points="217.08,153.66 223.72,157.45 220.03,149.18 213.42,145.34"/>
<polygon fill="#efc4b6" points="77.40,93.73 84.80,89.40 82.40,84.91 75.07,89.16"/>
<polygon fill="#ebb25e" points="196.23,131.23 203.08,134.10 199.54,126.66 192.73,123.74"/>
<polygon fill="#e9ba41" points="206.67,142.01 213.42,145.34 209.80,137.49 203.08,134.10"/>
<polygon fill="#efbfac" points="147.41,96.96 154.62,97.24 151.51,91.41 144.34,91.08"/>
<polygon fill="#8bd000" points="251.91,203.69 258.16,208.62 254.26,198.70 248.01,193.69"/>
<polygon fill="#f0c9c0" points="94.69,90.56 102.10,87.39 99.51,82.59 92.17,85.69"/>
<polygon fill="#efc4b6" points="129.79,92.17 137.10,91.33 134.15,85.85 126.89,86.64"/>
<polygon fill="#efbfac" points="70.00,98.67 77.40,93.73 75.07,89.16 67.74,94.03"/>
<polygon fill="#eebaa2" points="157.80,103.53 164.97,104.35 161.75,98.10 154.62,97.24"/>
<polygon fill="#f0c9c0" points="112.18,90.03 119.56,88.04 116.79,82.90 109.46,84.85"/>
<polygon fill="#b6db00" points="241.62,189.13 248.01,193.69 244.16,184.15 237.77,179.53"/>
<polygon fill="#edb48e" points="168.25,111.05 175.37,112.39 172.04,105.73 164.97,104.35"/>
<polygon fill="#efc4b6" points="87.26,94.33 94.69,90.56 92.17,85.69 84.80,89.40"/>
<polygon fill="#50c000" points="266.07,229.87 272.17,235.08 268.20,224.31 262.10,219.02"/>
<polygon fill="#efbfac" points="140.12,97.26 147.41,96.96 144.34,91.08 137.10,91.33"/>
<polygon fill="#d9e300" points="231.24,175.38 237.77,179.53 233.98,170.39 227.46,166.18"/>
<polygon fill="#ecb17b" points="178.75,119.51 185.79,121.35 182.37,114.28 175.37,112.39"/>
<polygon fill="#e7cf1c" points="220.80,162.45 227.46,166.18 223.72,157.45 217.08,153.66"/>
<polygon fill="#ebb167" points="189.27,128.89 196.23,131.23 192.73,123.74 185.79,121.35"/>
<polygon fill="#f0c9c0" points="104.76,92.64 112.18,90.03 109.46,84.85 102.10,87.39"/>
<polygon fill="#efc4b6" points="122.41,93.62 129.79,92.17 126.89,86.64 119.56,88.04"/>
<polygon fill="#e8c32e" points="210.31,150.38 217.08,153.66 213.42,145.34 206.67,142.01"/>
<polygon fill="#eab74b" points="199.79,139.19 206.67,142.01 203.08,134.10 196.23,131.23"/>
<polygon fill="#76cb00" points="255.84,214.16 262.10,219.02 258.16,208.62 251.91,203.69"/>
<polygon fill="#eebaa2" points="150.54,103.30 157.80,103.53 154.62,97.24 147.41,96.96"/>
<polygon fill="#efbfac" points="79.80,98.73 87.26,94.33 84.80,89.40 77.40,93.73"/>
<polygon fill="#a0d600" points="245.50,199.21 251.91,203.69 248.01,193.69 241.62,189.13"/>
<polygon fill="#edb48e" points="161.04,110.29 168.25,111.05 164.97,104.35 157.80,103.53"/>
<polygon fill="#efbfac" points="132.75,98.16 140.12,97.26 137.10,91.33 129.79,92.17"/>
<polygon fill="#efc4b6" points="97.29,95.87 104.76,92.64 102.10,87.39 94.69,90.56"/>
<polygon fill="#efc4b6" points="114.97,95.67 122.41,93.62 119.56,88.04 112.18,90.03"/>
<polygon fill="#eebaa2" points="72.33,103.75 79.80,98.73 77.40,93.73 70.00,98.67"/>
<polygon fill="#cee000" points="235.07,185.05 241.62,189.13 237.77,179.53 231.24,175.38"/>
<polygon fill="#edb285" points="171.59,118.23 178.75,119.51 175.37,112.39 168.25,111.05"/>
<polygon fill="#e6dd09" points="224.56,171.72 231.24,175.38 227.46,166.18 220.80,162.45"/>
<polygon fill="#ebb167" points="182.18,127.10 189.27,128.89 185.79,121.35 178.75,119.51"/>
<polygon fill="#eebaa2" points="143.20,103.65 150.54,103.30 147.41,96.96 140.12,97.26"/>
<polygon fill="#efbfac" points="89.79,99.72 97.29,95.87 94.69,90.56 87.26,94.33"/>
<polygon fill="#e8c825" points="214.00,159.23 220.80,162.45 217.08,153.66 210.31,150.38"/>
<polygon fill="#eab454" points="192.80,136.90 199.79,139.19 196.23,131.23 189.27,128.89"/>
<polygon fill="#63c600" points="259.81,225.10 266.07,229.87 262.10,219.02 255.84,214.16"/>
<polygon fill="#e9ba41" points="203.41,147.62 210.31,150.38 206.67,142.01 199.79,139.19"/>
<polygon fill="#efbfac" points="125.32,99.66 132.75,98.16 129.79,92.17 122.41,93.62"/>
<polygon fill="#efc4b6" points="107.49,98.35 114.97,95.67 112.18,90.03 104.76,92.64"/>
<polygon fill="#eeb798" points="153.73,110.10 161.04,110.29 157.80,103.53 150.54,103.30"/>
<polygon fill="#8bd000" points="249.42,209.76 255.84,214.16 251.91,203.69 245.50,199.21"/>
<polygon fill="#efbfac" points="82.27,104.19 89.79,99.72 87.26,94.33 79.80,98.73"/>
<polygon fill="#edb285" points="164.34,117.51 171.59,118.23 168.25,111.05 161.04,110.29"/>
<polygon fill="#eebaa2" points="135.78,104.60 143.20,103.65 140.12,97.26 132.75,98.16"/>
<polygon fill="#b6db00" points="238.94,195.20 245.50,199.21 241.62,189.13 235.07,185.05"/>
<polygon fill="#efbfac" points="99.96,101.64 107.49,98.35 104.76,92.64 97.29,95.87"/>
<polygon fill="#efbfac" points="117.82,101.78 125.32,99.66 122.41,93.62 114.97,95.67"/>
<polygon fill="#ecb171" points="174.99,125.87 182.18,127.10 178.75,119.51 171.59,118.23"/>
<polygon fill="#eebaa2" points="74.73,109.28 82.27,104.19 79.80,98.73 72.33,103.75"/>
<polygon fill="#d9e300" points="228.37,181.46 235.07,185.05 231.24,175.38 224.56,171.72"/>
<polygon fill="#ebb25e" points="185.68,135.17 192.80,136.90 189.27,128.89 182.18,127.10"/>
<polygon fill="#e7d612" points="217.75,168.56 224.56,171.72 220.80,162.45 214.00,159.23"/>
<polygon fill="#eab74b" points="196.38,145.39 203.41,147.62 199.79,139.19 192.80,136.90"/>
<polygon fill="#eeb798" points="146.34,110.51 153.73,110.10 150.54,103.30 143.20,103.65"/>
<polygon fill="#e8c32e" points="207.08,156.53 214.00,159.23 210.31,150.38 203.41,147.62"/>
<polygon fill="#eebaa2" points="92.40,105.56 99.96,101.64 97.29,95.87 89.79,99.72"/>
<polygon fill="#76cb00" points="253.39,220.79 259.81,225.10 255.84,214.16 249.42,209.76"/>
<polygon fill="#eebaa2" points="128.29,106.17 135.78,104.60 132.75,98.16 125.32,99.66"/>
<polygon fill="#efbfac" points="110.28,104.51 117.82,101.78 114.97,95.67 107.49,98.35"/>
<polygon fill="#edb285" points="156.99,117.39 164.34,117.51 161.04,110.29 153.73,110.10"/>
<polygon fill="#a0d600" points="242.85,205.84 249.42,209.76 245.50,199.21 238.94,195.20"/>
<polygon fill="#eebaa2" points="84.81,110.10 92.40,105.56 89.79,99.72 82.27,104.19"/>
<polygon fill="#ecb17b" points="167.70,125.22 174.99,125.87 171.59,118.23 164.34,117.51"/>
<polygon fill="#eeb798" points="138.88,111.53 146.34,110.51 143.20,103.65 135.78,104.60"/>
<polygon fill="#c2de00" points="232.23,191.69 238.94,195.20 235.07,185.05 228.37,181.46"/>
<polygon fill="#ebb167" points="178.45,134.00 185.68,135.17 182.18,127.10 174.99,125.87"/>
<polygon fill="#eebaa2" points="102.69,107.87 110.28,104.51 107.49,98.35 99.96,101.64"/>
<polygon fill="#eebaa2" points="120.74,108.35 128.29,106.17 125.32,99.66 117.82,101.78"/>
<polygon fill="#e6e600" points="221.54,178.38 228.37,181.46 224.56,171.72 217.75,168.56"/>
<polygon fill="#eab74b" points="189.23,143.72 196.38,145.39 192.80,136.90 185.68,135.17"/>
<polygon fill="#e7cf1c" points="210.79,165.93 217.75,168.56 214.00,159.23 207.08,156.53"/>
<polygon fill="#eeb798" points="77.21,115.28 84.81,110.10 82.27,104.19 74.73,109.28"/>
<polygon fill="#e9be38" points="200.02,154.37 207.08,156.53 203.41,147.62 196.38,145.39"/>
<polygon fill="#edb48e" points="149.55,117.85 156.99,117.39 153.73,110.10 146.34,110.51"/>
<polygon fill="#eeb798" points="95.07,111.87 102.69,107.87 99.96,101.64 92.40,105.56"/>
<polygon fill="#8bd000" points="246.81,216.95 253.39,220.79 249.42,209.76 242.85,205.84"/>
<polygon fill="#eeb798" points="131.34,113.15 138.88,111.53 135.78,104.60 128.29,106.17"/>
<polygon fill="#ecb17b" points="160.31,125.15 167.70,125.22 164.34,117.51 156.99,117.39"/>
<polygon fill="#eeb798" points="113.14,111.15 120.74,108.35 117.82,101.78 110.28,104.51"/>
<polygon fill="#abd800" points="236.13,202.40 242.85,205.84 238.94,195.20 232.23,191.69"/>
<polygon fill="#ebb167" points="171.12,133.40 178.45,134.00 174.99,125.87 167.70,125.22"/>
<polygon fill="#edb48e" points="87.42,116.49 95.07,111.87 92.40,105.56 84.81,110.10"/>
<polygon fill="#cee000" points="225.38,188.68 232.23,191.69 228.37,181.46 221.54,178.38"/>
<polygon fill="#edb48e" points="142.03,118.93 149.55,117.85 146.34,110.51 138.88,111.53"/>
<polygon fill="#eab454" points="181.97,142.61 189.23,143.72 185.68,135.17 178.45,134.00"/>
<polygon fill="#e6dd09" points="214.56,175.82 221.54,178.38 217.75,168.56 210.79,165.93"/>
<polygon fill="#e9ba41" points="192.84,152.76 200.02,154.37 196.38,145.39 189.23,143.72"/>
<polygon fill="#e8c825" points="203.71,163.84 210.79,165.93 207.08,156.53 200.02,154.37"/>
<polygon fill="#eeb798" points="105.49,114.59 113.14,111.15 110.28,104.51 102.69,107.87"/>
<polygon fill="#eeb798" points="123.73,115.40 131.34,113.15 128.29,106.17 120.74,108.35"/>
<polygon fill="#edb285" points="79.75,121.75 87.42,116.49 84.81,110.10 77.21,115.28"/>
<polygon fill="#ecb17b" points="152.82,125.68 160.31,125.15 156.99,117.39 149.55,117.85"/>
<polygon fill="#ebb167" points="163.68,133.40 171.12,133.40 167.70,125.22 160.31,125.15"/>
<polygon fill="#edb48e" points="97.81,118.65 105.49,114.59 102.69,107.87 95.07,111.87"/>
<polygon fill="#95d300" points="240.07,213.61 246.81,216.95 242.85,205.84 236.13,202.40"/>
<polygon fill="#edb48e" points="134.44,120.62 142.03,118.93 138.88,111.53 131.34,113.15"/>
<polygon fill="#edb48e" points="116.07,118.27 123.73,115.40 120.74,108.35 113.14,111.15"/>
<polygon fill="#ebb25e" points="174.60,142.09 181.97,142.61 178.45,134.00 171.12,133.40"/>
<polygon fill="#b6db00" points="229.26,199.48 236.13,202.40 232.23,191.69 225.38,188.68"/>
<polygon fill="#e9ba41" points="185.54,151.72 192.84,152.76 189.23,143.72 181.97,142.61"/>
<polygon fill="#d9e300" points="218.38,186.20 225.38,188.68 221.54,178.38 214.56,175.82"/>
<polygon fill="#ecb17b" points="145.26,126.82 152.82,125.68 149.55,117.85 142.03,118.93"/>
<polygon fill="#e8c32e" points="196.50,162.30 203.71,163.84 200.02,154.37 192.84,152.76"/>
<polygon fill="#e7d612" points="207.45,173.80 214.56,175.82 210.79,165.93 203.71,163.84"/>
<polygon fill="#edb285" points="90.09,123.36 97.81,118.65 95.07,111.87 87.42,116.49"/>
<polygon fill="#edb285" points="126.78,122.94 134.44,120.62 131.34,113.15 123.73,115.40"/>
<polygon fill="#edb48e" points="108.36,121.78 116.07,118.27 113.14,111.15 105.49,114.59"/>
<polygon fill="#ecb171" points="156.16,134.00 163.68,133.40 160.31,125.15 152.82,125.68"/>
<polygon fill="#ecb17b" points="82.36,128.70 90.09,123.36 87.42,116.49 79.75,121.75"/>
<polygon fill="#ebb25e" points="167.12,142.15 174.60,142.09 171.12,133.40 163.68,133.40"/>
<polygon fill="#a0d600" points="233.19,210.78 240.07,213.61 236.13,202.40 229.26,199.48"/>
<polygon fill="#ecb17b" points="137.61,128.59 145.26,126.82 142.03,118.93 134.44,120.62"/>
<polygon fill="#edb285" points="100.62,125.93 108.36,121.78 105.49,114.59 97.81,118.65"/>
<polygon fill="#eab74b" points="178.13,151.27 185.54,151.72 181.97,142.61 174.60,142.09"/>
<polygon fill="#edb285" points="119.07,125.89 126.78,122.94 123.73,115.40 116.07,118.27"/>
<polygon fill="#c2de00" points="222.24,197.09 229.26,199.48 225.38,188.68 218.38,186.20"/>
<polygon fill="#e9be38" points="189.17,161.34 196.50,162.30 192.84,152.76 185.54,151.72"/>
<polygon fill="#e6e600" points="211.25,184.27 218.38,186.20 214.56,175.82 207.45,173.80"/>
<polygon fill="#e7cf1c" points="200.22,172.34 207.45,173.80 203.71,163.84 196.50,162.30"/>
<polygon fill="#ecb171" points="148.54,135.22 156.16,134.00 152.82,125.68 145.26,126.82"/>
<polygon fill="#ecb17b" points="92.84,130.71 100.62,125.93 97.81,118.65 90.09,123.36"/>
<polygon fill="#ecb17b" points="129.90,130.98 137.61,128.59 134.44,120.62 126.78,122.94"/>
<polygon fill="#ecb17b" points="111.30,129.47 119.07,125.89 116.07,118.27 108.36,121.78"/>
<polygon fill="#ebb25e" points="159.55,142.82 167.12,142.15 163.68,133.40 156.16,134.00"/>
<polygon fill="#ecb171" points="85.04,136.14 92.84,130.71 90.09,123.36 82.36,128.70"/>
<polygon fill="#eab74b" points="170.62,151.41 178.13,151.27 174.60,142.09 167.12,142.15"/>
<polygon fill="#abd800" points="226.15,208.48 233.19,210.78 229.26,199.48 222.24,197.09"/>
<polygon fill="#ecb171" points="140.85,137.05 148.54,135.22 145.26,126.82 137.61,128.59"/>
<polygon fill="#e9be38" points="181.73,160.96 189.17,161.34 185.54,151.72 178.13,151.27"/>
<polygon fill="#ecb17b" points="103.50,133.70 111.30,129.47 108.36,121.78 100.62,125.93"/>
<polygon fill="#cee000" points="215.09,195.24 222.24,197.09 218.38,186.20 211.25,184.27"/>
<polygon fill="#e8c825" points="192.86,171.46 200.22,172.34 196.50,162.30 189.17,161.34"/>
<polygon fill="#ecb171" points="122.13,134.00 129.90,130.98 126.78,122.94 119.07,125.89"/>
<polygon fill="#e6dd09" points="203.98,182.89 211.25,184.27 207.45,173.80 200.22,172.34"/>
<polygon fill="#ebb25e" points="151.89,144.11 159.55,142.82 156.16,134.00 148.54,135.22"/>
<polygon fill="#ecb171" points="95.66,138.57 103.50,133.70 100.62,125.93 92.84,130.71"/>
<polygon fill="#ebb167" points="133.09,139.52 140.85,137.05 137.61,128.59 129.90,130.98"/>
<polygon fill="#eab74b" points="163.01,152.16 170.62,151.41 167.12,142.15 159.55,142.82"/>
<polygon fill="#ecb171" points="114.31,137.67 122.13,134.00 119.07,125.89 111.30,129.47"/>
<polygon fill="#e9be38" points="174.18,161.17 181.73,160.96 178.13,151.27 170.62,151.41"/>
<polygon fill="#ebb167" points="87.80,144.08 95.66,138.57 92.84,130.71 85.04,136.14"/>
<polygon fill="#b6db00" points="218.98,206.72 226.15,208.48 222.24,197.09 215.09,195.24"/>
<polygon fill="#e8c825" points="185.38,171.16 192.86,171.46 189.17,161.34 181.73,160.96"/>
<polygon fill="#ebb25e" points="144.15,146.03 151.89,144.11 148.54,135.22 140.85,137.05"/>
<polygon fill="#d9e300" points="207.80,193.95 215.09,195.24 211.25,184.27 203.98,182.89"/>
<polygon fill="#e7d612" points="196.59,182.09 203.98,182.89 200.22,172.34 192.86,171.46"/>
<polygon fill="#ebb167" points="106.44,141.98 114.31,137.67 111.30,129.47 103.50,133.70"/>
<polygon fill="#ebb167" points="125.26,142.62 133.09,139.52 129.90,130.98 122.13,134.00"/>
<polygon fill="#eab74b" points="155.30,153.52 163.01,152.16 159.55,142.82 151.89,144.11"/>
<polygon fill="#ebb25e" points="98.55,146.93 106.44,141.98 103.50,133.70 95.66,138.57"/>
<polygon fill="#e9ba41" points="166.52,162.00 174.18,161.17 170.62,151.41 163.01,152.16"/>
<polygon fill="#ebb25e" points="136.34,148.57 144.15,146.03 140.85,137.05 133.09,139.52"/>
<polygon fill="#ebb25e" points="117.39,146.37 125.26,142.62 122.13,134.00 114.31,137.67"/>
<polygon fill="#e8c32e" points="177.79,171.46 185.38,171.16 181.73,160.96 174.18,161.17"/>
<polygon fill="#e7d612" points="189.08,181.88 196.59,182.09 192.86,171.46 185.38,171.16"/>
<polygon fill="#c2de00" points="211.67,205.53 218.98,206.72 215.09,195.24 207.80,193.95"/>
<polygon fill="#e6e600" points="200.38,193.24 207.80,193.95 203.98,182.89 196.59,182.09"/>
<polygon fill="#eab454" points="90.62,152.54 98.55,146.93 95.66,138.57 87.80,144.08"/>
<polygon fill="#eab74b" points="147.52,155.52 155.30,153.52 151.89,144.11 144.15,146.03"/>
<polygon fill="#ebb25e" points="109.46,150.76 117.39,146.37 114.31,137.67 106.44,141.98"/>
<polygon fill="#eab454" points="128.46,151.76 136.34,148.57 133.09,139.52 125.26,142.62"/>
<polygon fill="#e9ba41" points="158.78,163.45 166.52,162.00 163.01,152.16 155.30,153.52"/>
<polygon fill="#e8c32e" points="170.10,172.37 177.79,171.46 174.18,161.17 166.52,162.00"/>
<polygon fill="#eab74b" points="139.65,158.14 147.52,155.52 144.15,146.03 136.34,148.57"/>
<polygon fill="#eab454" points="101.50,155.81 109.46,150.76 106.44,141.98 98.55,146.93"/>
<polygon fill="#e7cf1c" points="181.46,182.26 189.08,181.88 185.38,171.16 177.79,171.46"/>
<polygon fill="#eab454" points="120.53,155.59 128.46,151.76 125.26,142.62 117.39,146.37"/>
<polygon fill="#e6e600" points="192.84,193.11 200.38,193.24 196.59,182.09 189.08,181.88"/>
<polygon fill="#cee000" points="204.22,204.91 211.67,205.53 207.80,193.95 200.38,193.24"/>
<polygon fill="#e9ba41" points="150.94,165.53 158.78,163.45 155.30,153.52 147.52,155.52"/>
<polygon fill="#eab74b" points="93.52,161.50 101.50,155.81 98.55,146.93 90.62,152.54"/>
<polygon fill="#eab74b" points="131.73,161.42 139.65,158.14 136.34,148.57 128.46,151.76"/>
<polygon fill="#eab74b" points="112.55,160.07 120.53,155.59 117.39,146.37 109.46,150.76"/>
<polygon fill="#e8c32e" points="162.31,173.90 170.10,172.37 166.52,162.00 158.78,163.45"/>
<polygon fill="#e7cf1c" points="173.73,183.26 181.46,182.26 177.79,171.46 170.10,172.37"/>
<polygon fill="#e6dd09" points="185.19,193.59 192.84,193.11 189.08,181.88 181.46,182.26"/>
<polygon fill="#e9be38" points="143.03,168.24 150.94,165.53 147.52,155.52 139.65,158.14"/>
<polygon fill="#cee000" points="196.65,204.88 204.22,204.91 200.38,193.24 192.84,193.11"/>
<polygon fill="#e9ba41" points="104.53,165.21 112.55,160.07 109.46,150.76 101.50,155.81"/>
<polygon fill="#e9ba41" points="123.74,165.34 131.73,161.42 128.46,151.76 120.53,155.59"/>
<polygon fill="#e8c32e" points="154.43,176.07 162.31,173.90 158.78,163.45 150.94,165.53"/>
<polygon fill="#e9be38" points="96.48,170.99 104.53,165.21 101.50,155.81 93.52,161.50"/>
<polygon fill="#e7cf1c" points="165.90,184.89 173.73,183.26 170.10,172.37 162.31,173.90"/>
<polygon fill="#e9be38" points="135.05,171.60 143.03,168.24 139.65,158.14 131.73,161.42"/>
<polygon fill="#e9be38" points="115.70,169.91 123.74,165.34 120.53,155.59 112.55,160.07"/>
<polygon fill="#e6dd09" points="177.42,194.69 185.19,193.59 181.46,182.26 173.73,183.26"/>
<polygon fill="#cee000" points="188.96,205.46 196.65,204.88 192.84,193.11 185.19,193.59"/>
<polygon fill="#e8c825" points="146.48,178.87 154.43,176.07 150.94,165.53 143.03,168.24"/>
<polygon fill="#e8c32e" points="107.63,175.14 115.70,169.91 112.55,160.07 104.53,165.21"/>
<polygon fill="#e8c32e" points="127.01,175.62 135.05,171.60 131.73,161.42 123.74,165.34"/>
<polygon fill="#e7cf1c" points="157.98,187.14 165.90,184.89 162.31,173.90 154.43,176.07"/>
<polygon fill="#e8c825" points="99.52,181.02 107.63,175.14 104.53,165.21 96.48,170.99"/>
<polygon fill="#e6dd09" points="169.55,196.41 177.42,194.69 173.73,183.26 165.90,184.89"/>
<polygon fill="#e8c825" points="138.45,182.33 146.48,178.87 143.03,168.24 135.05,171.60"/>
<polygon fill="#e8c32e" points="118.92,180.28 127.01,175.62 123.74,165.34 115.70,169.91"/>
<polygon fill="#d9e300" points="181.16,206.65 188.96,205.46 185.19,193.59 177.42,194.69"/>
<polygon fill="#e7d612" points="149.98,190.04 157.98,187.14 154.43,176.07 146.48,178.87"/>
<polygon fill="#e8c825" points="110.79,185.60 118.92,180.28 115.70,169.91 107.63,175.14"/>
<polygon fill="#e7cf1c" points="130.36,186.43 138.45,182.33 135.05,171.60 127.01,175.62"/>
<polygon fill="#e6dd09" points="161.59,198.76 169.55,196.41 165.90,184.89 157.98,187.14"/>
<polygon fill="#d9e300" points="173.26,208.46 181.16,206.65 177.42,194.69 169.55,196.41"/>
<polygon fill="#e7cf1c" points="102.63,191.58 110.79,185.60 107.63,175.14 99.52,181.02"/>
<polygon fill="#e7d612" points="141.90,193.59 149.98,190.04 146.48,178.87 138.45,182.33"/>
<polygon fill="#e7cf1c" points="122.21,191.19 130.36,186.43 127.01,175.62 118.92,180.28"/>
<polygon fill="#e6e600" points="153.55,201.75 161.59,198.76 157.98,187.14 149.98,190.04"/>
<polygon fill="#e6dd09" points="133.76,197.79 141.90,193.59 138.45,182.33 130.36,186.43"/>
<polygon fill="#e7d612" points="114.02,196.61 122.21,191.19 118.92,180.28 110.79,185.60"/>
<polygon fill="#d9e300" points="165.26,210.92 173.26,208.46 169.55,196.41 161.59,198.76"/>
<polygon fill="#e6e600" points="145.42,205.40 153.55,201.75 149.98,190.04 141.90,193.59"/>
<polygon fill="#e6dd09" points="105.80,202.69 114.02,196.61 110.79,185.60 102.63,191.58"/>
<polygon fill="#e6dd09" points="125.57,202.65 133.76,197.79 130.36,186.43 122.21,191.19"/>
<polygon fill="#cee000" points="157.17,214.01 165.26,210.92 161.59,198.76 153.55,201.75"/>
<polygon fill="#d9e300" points="137.24,209.70 145.42,205.40 141.90,193.59 133.76,197.79"/>
<polygon fill="#e6e600" points="117.33,208.17 125.57,202.65 122.21,191.19 114.02,196.61"/>
<polygon fill="#cee000" points="149.01,217.76 157.17,214.01 153.55,201.75 145.42,205.40"/>
<polygon fill="#d9e300" points="109.05,214.34 117.33,208.17 114.02,196.61 105.80,202.69"/>
<polygon fill="#d9e300" points="128.99,214.66 137.24,209.70 133.76,197.79 125.57,202.65"/>
<polygon fill="#c2de00" points="140.77,222.16 149.01,217.76 145.42,205.40 137.24,209.70"/>
<polygon fill="#cee000" points="120.69,220.28 128.99,214.66 125.57,202.65 117.33,208.17"/>
<polygon fill="#c2de00" points="112.36,226.55 120.69,220.28 117.33,208.17 109.05,214.34"/>
<polygon fill="#b6db00" points="132.47,227.22 140.77,222.16 137.24,209.70 128.99,214.66"/>
<polygon fill="#b6db00" points="124.13,232.94 132.47,227.22 128.99,214.66 120.69,220.28"/>
<polygon fill="#abd800" points="115.74,239.32 124.13,232.94 120.69,220.28 112.36,226.55"/>
</g>
<g stroke="#111" stroke-width="0.8" stroke-dasharray="1,1.5" fill="none">
<line x1="110.18" y1="94.41" x2="50.82" y2="55.42" />
<line x1="110.18" y1="94.41" x2="311.40" y2="73.05" />
<line x1="118.30" y1="305.93" x2="110.18" y2="94.41" />
</g>
<g stroke="#2a2a2a" stroke-width="0.8" fill="none">
<line x1="118.30" y1="305.93" x2="295.04" y2="258.51" />
<line x1="118.30" y1="305.93" x2="62.88" y2="217.85" />
<line x1="118.30" y1="305.93" x2="120.74" y2="315.00" />
<line x1="167.46" y1="292.74" x2="170.10" y2="301.39" />
<line x1="213.06" y1="280.51" x2="215.86" y2="288.78" />
<line x1="255.48" y1="269.13" x2="258.41" y2="277.04" />
<line x1="295.04" y1="258.51" x2="298.08" y2="266.11" />
<line x1="118.30" y1="305.93" x2="112.38" y2="313.07" />
<line x1="104.14" y1="283.43" x2="98.59" y2="290.10" />
<line x1="91.68" y1="263.63" x2="86.46" y2="269.89" />
<line x1="80.64" y1="246.08" x2="75.71" y2="251.98" />
<line x1="70.79" y1="230.42" x2="66.11" y2="235.99" />
<line x1="60.71" y1="188.66" x2="54.59" y2="187.70" />
<line x1="57.17" y1="140.93" x2="50.86" y2="140.15" />
<line x1="53.39" y1="90.03" x2="46.89" y2="89.44" />
</g>
<g stroke="#2e2e2e" stroke-width="0.8" fill="none">
<line x1="428.70" y1="220.91" x2="416.44" y2="55.70" />
<line x1="416.44" y1="55.70" x2="577.57" y2="43.89" />
<line x1="577.57" y1="43.89" x2="681.47" y2="73.64" />
<line x1="664.84" y1="262.27" x2="681.47" y2="73.64" />
<line x1="574.03" y1="192.88" x2="577.57" y2="43.89" />
<line x1="428.70" y1="220.91" x2="574.03" y2="192.88" />
<line x1="574.03" y1="192.88" x2="664.84" y2="262.27" />
</g>
<g fill="none" stroke-opacity="0.85" stroke-width="0.7">
<polyline stroke="#0eab00" points="643.43,268.01 644.50,266.24 646.49,262.36 647.00,261.45 649.14,256.98 649.29,256.70 651.41,252.01"/>
<polyline stroke="#2db600" points="578.70,285.38 583.76,282.39 589.17,278.89 592.32,276.66 594.31,275.31 599.20,271.67 602.23,269.18 603.80,267.94 608.16,264.19 609.96,262.48 612.26,260.39 616.11,256.55 616.31,256.32 619.76,252.72 621.60,250.61 623.18,248.87 626.18,245.23 626.37,245.00 629.41,241.18 630.14,240.16 632.25,237.37"/>
<polyline stroke="#50c000" points="478.90,300.68 486.90,298.48 494.74,296.21 502.40,293.86 509.87,291.44 517.15,288.93 524.22,286.34 531.09,283.66 537.20,281.12 537.74,280.90 544.20,278.10 550.44,275.21 556.44,272.25 559.37,270.70 562.22,269.22 567.80,266.15 573.12,262.99 573.97,262.46 578.26,259.82 583.15,256.59 584.88,255.36 587.84,253.32 592.31,250.02 593.61,248.99 596.58,246.70 600.63,243.35 600.85,243.15 604.51,240.01 606.97,237.73 608.18,236.65 611.68,233.29 612.30,232.65 615.01,229.95 616.96,227.85 618.16,226.60"/>
<polyline stroke="#76cb00" points="470.25,286.94 477.88,284.74 485.35,282.48 492.66,280.16 499.79,277.77 506.74,275.33 513.12,272.96 513.51,272.82 520.12,270.27 526.53,267.67 532.75,265.00 538.77,262.27 538.87,262.22 544.63,259.52 550.28,256.72 555.53,253.95 555.72,253.86 561.00,250.99 566.07,248.06 567.96,246.91 570.95,245.12 575.65,242.15 577.92,240.62 580.16,239.15 584.48,236.15 586.18,234.90 588.64,233.13 592.61,230.09 593.22,229.59 596.43,227.07 599.32,224.64 600.06,224.03 603.56,221.01 604.67,219.98 606.90,217.99"/>
<polyline stroke="#a0d600" points="463.10,275.57 470.44,273.40 477.63,271.19 484.67,268.92 491.55,266.61 498.26,264.25 504.81,261.83 505.31,261.64 511.21,259.40 517.43,256.91 523.48,254.38 528.93,251.99 529.35,251.81 535.07,249.22 540.60,246.59 545.24,244.27 545.95,243.92 551.15,241.24 556.17,238.52 557.78,237.60 561.02,235.79 565.70,233.03 567.97,231.63 570.22,230.27 574.57,227.49 576.53,226.17 578.76,224.70 582.79,221.91 583.88,221.12 586.68,219.12 590.31,216.38 590.40,216.32 593.99,213.54 595.97,211.93 597.44,210.76"/>
<polyline stroke="#c2de00" points="457.00,265.88 464.11,263.75 471.07,261.58 474.64,260.43 477.89,259.38 484.57,257.15 491.09,254.88 497.47,252.56 503.68,250.21 506.01,249.29 509.74,247.84 515.66,245.44 521.41,243.00 525.88,241.01 526.99,240.53 532.44,238.05 537.71,235.53 540.66,234.07 542.83,233.00 547.81,230.45 552.49,227.94 552.60,227.88 557.27,225.31 561.77,222.71 562.30,222.39 566.13,220.13 570.33,217.52 570.68,217.29 574.40,214.92 577.96,212.54 578.31,212.31 582.11,209.71 584.36,208.09 585.75,207.11 589.26,204.52"/>
<polyline stroke="#e6dd09" points="451.67,257.41 458.59,255.34 465.37,253.24 472.01,251.11 478.51,248.94 484.87,246.74 487.68,245.73 491.09,244.51 497.17,242.27 503.10,239.99 508.88,237.68 510.23,237.12 514.53,235.36 520.02,233.01 525.37,230.64 526.67,230.04 530.57,228.26 535.63,225.86 539.69,223.86 540.54,223.44 545.31,221.03 549.93,218.59 550.45,218.30 554.43,216.15 558.77,213.70 559.59,213.21 562.98,211.25 567.05,208.79 567.53,208.49 571.00,206.35 574.52,204.07 574.81,203.89 578.50,201.45 580.74,199.91 582.06,199.01"/>
<polyline stroke="#e8c32e" points="446.96,249.92 453.70,247.90 460.32,245.86 466.80,243.78 473.15,241.68 474.35,241.27 479.37,239.56 485.47,237.42 491.42,235.25 497.23,233.05 498.31,232.63 502.91,230.85 508.46,228.62 513.86,226.37 515.72,225.57 519.13,224.12 524.27,221.85 529.26,219.55 529.49,219.44 534.13,217.26 538.85,214.95 540.84,213.95 543.45,212.64 547.91,210.32 550.51,208.92 552.24,208.00 556.45,205.68 558.90,204.27 560.52,203.35 564.48,201.03 566.29,199.92 568.31,198.71 572.01,196.39 572.88,195.83 575.61,194.09"/>
<polyline stroke="#eab454" points="442.72,243.19 449.32,241.22 455.79,239.23 462.13,237.21 465.72,236.04 468.36,235.18 474.46,233.13 480.43,231.06 486.27,228.96 489.85,227.64 491.98,226.85 497.57,224.73 503.02,222.59 507.57,220.75 508.34,220.43 513.55,218.27 518.62,216.09 521.62,214.76 523.56,213.90 528.37,211.71 533.05,209.50 533.31,209.38 537.62,207.30 542.05,205.09 543.25,204.47 546.37,202.88 550.56,200.66 551.91,199.92 554.64,198.45 558.59,196.23 559.55,195.67"/>
<polyline stroke="#ecb17b" points="438.88,237.08 445.34,235.16 451.69,233.23 457.91,231.27 461.05,230.25 464.02,229.30 470.00,227.31 475.87,225.31 481.61,223.28 484.36,222.28 487.23,221.25 492.73,219.20 498.11,217.14 501.82,215.66 503.36,215.06 508.49,212.98 513.50,210.89 515.83,209.88 518.39,208.79 523.16,206.68 527.56,204.67 527.80,204.56 532.33,202.46 536.74,200.33 537.60,199.91"/>
<polyline stroke="#eebaa2" points="435.36,231.49 441.71,229.63 447.94,227.74 454.05,225.84 459.37,224.14 460.05,223.92 465.94,222.00 471.71,220.05 477.36,218.09 481.27,216.70 482.89,216.12 488.32,214.15 493.62,212.15 498.11,210.42 498.80,210.15 503.88,208.15 508.83,206.13 511.80,204.88"/>
<polyline stroke="#f0d0ca" points="432.12,226.34 438.36,224.53 444.49,222.70 450.50,220.85 456.40,218.98 459.72,217.90 462.20,217.11 467.88,215.22 473.45,213.32 478.91,211.41 480.02,211.01"/>
<polyline stroke="#f2f2f2" points="429.13,221.59 435.26,219.81 436.81,219.35"/>
</g>
<g stroke="#111" stroke-width="0.6" stroke-linejoin="round">
<polygon fill="#e9be38" points="573.54,109.00 579.02,111.52 576.13,104.53 570.67,101.93"/>
<polygon fill="#e8c825" points="576.45,116.01 581.95,118.43 579.02,111.52 573.54,109.00"/>
<polygon fill="#e9ba41" points="567.99,106.54 573.54,109.00 570.67,101.93 565.14,99.38"/>
<polygon fill="#e7d612" points="579.41,122.94 584.92,125.28 581.95,118.43 576.45,116.01"/>
<polygon fill="#e8c32e" points="570.89,113.63 576.45,116.01 573.54,109.00 567.99,106.54"/>
<polygon fill="#eab74b" points="562.37,104.12 567.99,106.54 565.14,99.38 559.53,96.87"/>
<polygon fill="#e6dd09" points="582.40,129.81 587.93,132.06 584.92,125.28 579.41,122.94"/>
<polygon fill="#e7cf1c" points="573.82,120.65 579.41,122.94 576.45,116.01 570.89,113.63"/>
<polygon fill="#e9be38" points="565.25,111.30 570.89,113.63 567.99,106.54 562.37,104.12"/>
<polygon fill="#eab454" points="556.67,101.75 562.37,104.12 559.53,96.87 553.85,94.41"/>
<polygon fill="#e7d612" points="576.80,127.61 582.40,129.81 579.41,122.94 573.82,120.65"/>
<polygon fill="#d9e300" points="585.44,136.62 590.99,138.78 587.93,132.06 582.40,129.81"/>
<polygon fill="#e8c825" points="568.17,118.41 573.82,120.65 570.89,113.63 565.25,111.30"/>
<polygon fill="#e9ba41" points="559.53,109.02 565.25,111.30 562.37,104.12 556.67,101.75"/>
<polygon fill="#ebb25e" points="550.90,99.44 556.67,101.75 553.85,94.41 548.10,92.01"/>
<polygon fill="#e7cf1c" points="571.13,125.46 576.80,127.61 573.82,120.65 568.17,118.41"/>
<polygon fill="#e6e600" points="579.82,134.50 585.44,136.62 582.40,129.81 576.80,127.61"/>
<polygon fill="#e8c32e" points="562.43,116.23 568.17,118.41 565.25,111.30 559.53,109.02"/>
<polygon fill="#c2de00" points="588.53,143.36 594.09,145.44 590.99,138.78 585.44,136.62"/>
<polygon fill="#eab74b" points="553.74,106.80 559.53,109.02 556.67,101.75 550.90,99.44"/>
<polygon fill="#ebb167" points="545.05,97.17 550.90,99.44 548.10,92.01 542.27,89.65"/>
<polygon fill="#e8c825" points="565.37,123.36 571.13,125.46 568.17,118.41 562.43,116.23"/>
<polygon fill="#e9be38" points="556.63,114.09 562.43,116.23 559.53,109.02 553.74,106.80"/>
<polygon fill="#e6dd09" points="574.13,132.44 579.82,134.50 576.80,127.61 571.13,125.46"/>
<polygon fill="#eab454" points="547.88,104.63 553.74,106.80 550.90,99.44 545.05,97.17"/>
<polygon fill="#cee000" points="582.89,141.33 588.53,143.36 585.44,136.62 579.82,134.50"/>
<polygon fill="#ecb171" points="539.13,94.96 545.05,97.17 542.27,89.65 536.36,87.34"/>
<polygon fill="#b6db00" points="591.66,150.03 597.24,152.02 594.09,145.44 588.53,143.36"/>
<polygon fill="#e8c825" points="559.54,121.32 565.37,123.36 562.43,116.23 556.63,114.09"/>
<polygon fill="#e9ba41" points="550.74,112.02 556.63,114.09 553.74,106.80 547.88,104.63"/>
<polygon fill="#e7d612" points="568.35,130.44 574.13,132.44 571.13,125.46 565.37,123.36"/>
<polygon fill="#ebb25e" points="541.94,102.51 547.88,104.63 545.05,97.17 539.13,94.96"/>
<polygon fill="#d9e300" points="577.17,139.36 582.89,141.33 579.82,134.50 574.13,132.44"/>
<polygon fill="#ecb17b" points="533.13,92.80 539.13,94.96 536.36,87.34 530.38,85.09"/>
<polygon fill="#c2de00" points="586.00,148.09 591.66,150.03 588.53,143.36 582.89,141.33"/>
<polygon fill="#a0d600" points="594.84,156.64 600.45,158.55 597.24,152.02 591.66,150.03"/>
<polygon fill="#e8c32e" points="553.64,119.34 559.54,121.32 556.63,114.09 550.74,112.02"/>
<polygon fill="#eab74b" points="544.78,109.99 550.74,112.02 547.88,104.63 541.94,102.51"/>
<polygon fill="#e7cf1c" points="562.50,128.49 568.35,130.44 565.37,123.36 559.54,121.32"/>
<polygon fill="#ebb167" points="535.92,100.45 541.94,102.51 539.13,94.96 533.13,92.80"/>
<polygon fill="#e6e600" points="571.38,137.44 577.17,139.36 574.13,132.44 568.35,130.44"/>
<polygon fill="#edb285" points="527.05,90.70 533.13,92.80 530.38,85.09 524.32,82.89"/>
<polygon fill="#cee000" points="580.26,146.21 586.00,148.09 582.89,141.33 577.17,139.36"/>
<polygon fill="#abd800" points="589.16,154.79 594.84,156.64 591.66,150.03 586.00,148.09"/>
<polygon fill="#95d300" points="598.08,163.19 603.70,165.01 600.45,158.55 594.84,156.64"/>
<polygon fill="#e9be38" points="547.66,117.41 553.64,119.34 550.74,112.02 544.78,109.99"/>
<polygon fill="#eab454" points="538.74,108.03 544.78,109.99 541.94,102.51 535.92,100.45"/>
<polygon fill="#e8c825" points="556.58,126.59 562.50,128.49 559.54,121.32 553.64,119.34"/>
<polygon fill="#ecb171" points="529.82,98.45 535.92,100.45 533.13,92.80 527.05,90.70"/>
<polygon fill="#e6dd09" points="565.51,135.59 571.38,137.44 568.35,130.44 562.50,128.49"/>
<polygon fill="#edb285" points="520.90,88.66 527.05,90.70 524.32,82.89 518.18,80.75"/>
<polygon fill="#d9e300" points="574.45,144.39 580.26,146.21 577.17,139.36 571.38,137.44"/>
<polygon fill="#b6db00" points="583.40,153.00 589.16,154.79 586.00,148.09 580.26,146.21"/>
<polygon fill="#a0d600" points="592.37,161.43 598.08,163.19 594.84,156.64 589.16,154.79"/>
<polygon fill="#8bd000" points="601.36,169.68 607.01,171.41 603.70,165.01 598.08,163.19"/>
<polygon fill="#ebb25e" points="532.62,106.12 538.74,108.03 535.92,100.45 529.82,98.45"/>
<polygon fill="#e9ba41" points="541.59,115.54 547.66,117.41 544.78,109.99 538.74,108.03"/>
<polygon fill="#ecb171" points="523.64,96.51 529.82,98.45 527.05,90.70 520.90,88.66"/>
<polygon fill="#e8c825" points="550.57,124.76 556.58,126.59 553.64,119.34 547.66,117.41"/>
<polygon fill="#edb48e" points="514.66,86.68 520.90,88.66 518.18,80.75 511.97,78.67"/>
<polygon fill="#e7d612" points="559.56,133.79 565.51,135.59 562.50,128.49 556.58,126.59"/>
<polygon fill="#d9e300" points="568.55,142.62 574.45,144.39 571.38,137.44 565.51,135.59"/>
<polygon fill="#c2de00" points="577.56,151.27 583.40,153.00 580.26,146.21 574.45,144.39"/>
<polygon fill="#abd800" points="586.59,159.73 592.37,161.43 589.16,154.79 583.40,153.00"/>
<polygon fill="#8bd000" points="595.64,168.01 601.36,169.68 598.08,163.19 592.37,161.43"/>
<polygon fill="#76cb00" points="604.71,176.11 610.38,177.75 607.01,171.41 601.36,169.68"/>
<polygon fill="#ebb167" points="526.42,104.28 532.62,106.12 529.82,98.45 523.64,96.51"/>
<polygon fill="#eab74b" points="535.45,113.73 541.59,115.54 538.74,108.03 532.62,106.12"/>
<polygon fill="#ecb17b" points="517.39,94.62 523.64,96.51 520.90,88.66 514.66,86.68"/>
<polygon fill="#e8c32e" points="544.49,122.99 550.57,124.76 547.66,117.41 541.59,115.54"/>
<polygon fill="#eeb798" points="508.35,84.76 514.66,86.68 511.97,78.67 505.67,76.65"/>
<polygon fill="#e7cf1c" points="553.53,132.05 559.56,133.79 556.58,126.59 550.57,124.76"/>
<polygon fill="#e6e600" points="562.58,140.92 568.55,142.62 565.51,135.59 559.56,133.79"/>
<polygon fill="#cee000" points="571.65,149.59 577.56,151.27 574.45,144.39 568.55,142.62"/>
<polygon fill="#b6db00" points="580.73,158.09 586.59,159.73 583.40,153.00 577.56,151.27"/>
<polygon fill="#95d300" points="589.83,166.39 595.64,168.01 592.37,161.43 586.59,159.73"/>
<polygon fill="#80ce00" points="598.96,174.52 604.71,176.11 601.36,169.68 595.64,168.01"/>
<polygon fill="#6cc800" points="608.11,182.47 613.80,184.03 610.38,177.75 604.71,176.11"/>
<polygon fill="#ebb167" points="520.14,102.50 526.42,104.28 523.64,96.51 517.39,94.62"/>
<polygon fill="#eab454" points="529.23,111.99 535.45,113.73 532.62,106.12 526.42,104.28"/>
<polygon fill="#edb285" points="511.05,92.80 517.39,94.62 514.66,86.68 508.35,84.76"/>
<polygon fill="#e9be38" points="538.33,121.28 544.49,122.99 541.59,115.54 535.45,113.73"/>
<polygon fill="#eebaa2" points="501.95,82.90 508.35,84.76 505.67,76.65 499.30,74.69"/>
<polygon fill="#e8c825" points="547.43,130.37 553.53,132.05 550.57,124.76 544.49,122.99"/>
<polygon fill="#e6dd09" points="556.53,139.27 562.58,140.92 559.56,133.79 553.53,132.05"/>
<polygon fill="#d9e300" points="565.65,147.98 571.65,149.59 568.55,142.62 562.58,140.92"/>
<polygon fill="#b6db00" points="574.79,156.51 580.73,158.09 577.56,151.27 571.65,149.59"/>
<polygon fill="#a0d600" points="583.95,164.84 589.83,166.39 586.59,159.73 580.73,158.09"/>
<polygon fill="#8bd000" points="593.13,173.00 598.96,174.52 595.64,168.01 589.83,166.39"/>
<polygon fill="#76cb00" points="602.33,180.98 608.11,182.47 604.71,176.11 598.96,174.52"/>
<polygon fill="#63c600" points="611.57,188.78 617.29,190.25 613.80,184.03 608.11,182.47"/>
<polygon fill="#ecb171" points="513.79,100.78 520.14,102.50 517.39,94.62 511.05,92.80"/>
<polygon fill="#eab454" points="522.93,110.31 529.23,111.99 526.42,104.28 520.14,102.50"/>
<polygon fill="#edb48e" points="504.64,91.05 511.05,92.80 508.35,84.76 501.95,82.90"/>
<polygon fill="#e9ba41" points="532.08,119.63 538.33,121.28 535.45,113.73 529.23,111.99"/>
<polygon fill="#efbfac" points="495.48,81.11 501.95,82.90 499.30,74.69 492.85,72.79"/>
<polygon fill="#e8c825" points="541.24,128.76 547.43,130.37 544.49,122.99 538.33,121.28"/>
<polygon fill="#e7d612" points="550.40,137.69 556.53,139.27 553.53,132.05 547.43,130.37"/>
<polygon fill="#e6e600" points="559.58,146.43 565.65,147.98 562.58,140.92 556.53,139.27"/>
<polygon fill="#c2de00" points="568.77,154.99 574.79,156.51 571.65,149.59 565.65,147.98"/>
<polygon fill="#abd800" points="577.98,163.36 583.95,164.84 580.73,158.09 574.79,156.51"/>
<polygon fill="#95d300" points="587.22,171.54 593.13,173.00 589.83,166.39 583.95,164.84"/>
<polygon fill="#80ce00" points="596.48,179.54 602.33,180.98 598.96,174.52 593.13,173.00"/>
<polygon fill="#6cc800" points="605.77,187.37 611.57,188.78 608.11,182.47 602.33,180.98"/>
<polygon fill="#ecb17b" points="507.35,99.13 513.79,100.78 511.05,92.80 504.64,91.05"/>
<polygon fill="#edb48e" points="498.14,89.36 504.64,91.05 501.95,82.90 495.48,81.11"/>
<polygon fill="#ebb25e" points="516.55,108.69 522.93,110.31 520.14,102.50 513.79,100.78"/>
<polygon fill="#efbfac" points="488.93,79.38 495.48,81.11 492.85,72.79 486.32,70.95"/>
<polygon fill="#eab74b" points="525.76,118.05 532.08,119.63 529.23,111.99 522.93,110.31"/>
<polygon fill="#e8c32e" points="534.97,127.21 541.24,128.76 538.33,121.28 532.08,119.63"/>
<polygon fill="#e7cf1c" points="544.19,136.18 550.40,137.69 547.43,130.37 541.24,128.76"/>
<polygon fill="#50c000" points="615.10,195.02 620.84,196.40 617.29,190.25 611.57,188.78"/>
<polygon fill="#e6e600" points="553.42,144.95 559.58,146.43 556.53,139.27 550.40,137.69"/>
<polygon fill="#cee000" points="562.67,153.53 568.77,154.99 565.65,147.98 559.58,146.43"/>
<polygon fill="#b6db00" points="571.94,161.93 577.98,163.36 574.79,156.51 568.77,154.99"/>
<polygon fill="#a0d600" points="581.23,170.14 587.22,171.54 583.95,164.84 577.98,163.36"/>
<polygon fill="#80ce00" points="590.54,178.18 596.48,179.54 593.13,173.00 587.22,171.54"/>
<polygon fill="#ecb17b" points="500.83,97.54 507.35,99.13 504.64,91.05 498.14,89.36"/>
<polygon fill="#eeb798" points="491.56,87.73 498.14,89.36 495.48,81.11 488.93,79.38"/>
<polygon fill="#ebb167" points="510.09,107.14 516.55,108.69 513.79,100.78 507.35,99.13"/>
<polygon fill="#6cc800" points="599.89,186.03 605.77,187.37 602.33,180.98 596.48,179.54"/>
<polygon fill="#efc4b6" points="482.29,77.71 488.93,79.38 486.32,70.95 479.70,69.18"/>
<polygon fill="#eab74b" points="519.36,116.53 525.76,118.05 522.93,110.31 516.55,108.69"/>
<polygon fill="#e9be38" points="528.62,125.73 534.97,127.21 532.08,119.63 525.76,118.05"/>
<polygon fill="#e7cf1c" points="537.90,134.73 544.19,136.18 541.24,128.76 534.97,127.21"/>
<polygon fill="#59c300" points="609.27,193.71 615.10,195.02 611.57,188.78 605.77,187.37"/>
<polygon fill="#e6dd09" points="547.19,143.53 553.42,144.95 550.40,137.69 544.19,136.18"/>
<polygon fill="#d9e300" points="556.49,152.15 562.67,153.53 559.58,146.43 553.42,144.95"/>
<polygon fill="#47be00" points="618.69,201.21 624.46,202.50 620.84,196.40 615.10,195.02"/>
<polygon fill="#b6db00" points="565.81,160.57 571.94,161.93 568.77,154.99 562.67,153.53"/>
<polygon fill="#a0d600" points="575.16,168.82 581.23,170.14 577.98,163.36 571.94,161.93"/>
<polygon fill="#8bd000" points="584.53,176.88 590.54,178.18 587.22,171.54 581.23,170.14"/>
<polygon fill="#edb285" points="494.23,96.02 500.83,97.54 498.14,89.36 491.56,87.73"/>
<polygon fill="#eebaa2" points="484.91,86.18 491.56,87.73 488.93,79.38 482.29,77.71"/>
<polygon fill="#ecb171" points="503.55,105.66 510.09,107.14 507.35,99.13 500.83,97.54"/>
<polygon fill="#f0c9c0" points="475.58,76.12 482.29,77.71 479.70,69.18 473.01,67.48"/>
<polygon fill="#eab454" points="512.87,115.09 519.36,116.53 516.55,108.69 510.09,107.14"/>
<polygon fill="#76cb00" points="593.93,184.75 599.89,186.03 596.48,179.54 590.54,178.18"/>
<polygon fill="#e9ba41" points="522.20,124.32 528.62,125.73 525.76,118.05 519.36,116.53"/>
<polygon fill="#e8c825" points="531.53,133.35 537.90,134.73 534.97,127.21 528.62,125.73"/>
<polygon fill="#63c600" points="603.36,192.46 609.27,193.71 605.77,187.37 599.89,186.03"/>
<polygon fill="#e7d612" points="540.87,142.18 547.19,143.53 544.19,136.18 537.90,134.73"/>
<polygon fill="#d9e300" points="550.23,150.83 556.49,152.15 553.42,144.95 547.19,143.53"/>
<polygon fill="#50c000" points="612.83,199.98 618.69,201.21 615.10,195.02 609.27,193.71"/>
<polygon fill="#c2de00" points="559.60,159.28 565.81,160.57 562.67,153.53 556.49,152.15"/>
<polygon fill="#abd800" points="569.00,167.55 575.16,168.82 571.94,161.93 565.81,160.57"/>
<polygon fill="#3ebb00" points="622.35,207.34 628.15,208.54 624.46,202.50 618.69,201.21"/>
<polygon fill="#95d300" points="578.43,175.64 584.53,176.88 581.23,170.14 575.16,168.82"/>
<polygon fill="#edb48e" points="487.55,94.57 494.23,96.02 491.56,87.73 484.91,86.18"/>
<polygon fill="#eebaa2" points="478.17,84.69 484.91,86.18 482.29,77.71 475.58,76.12"/>
<polygon fill="#ecb171" points="496.93,104.24 503.55,105.66 500.83,97.54 494.23,96.02"/>
<polygon fill="#f0c9c0" points="468.78,74.59 475.58,76.12 473.01,67.48 466.23,65.84"/>
<polygon fill="#ebb25e" points="506.31,113.71 512.87,115.09 510.09,107.14 503.55,105.66"/>
<polygon fill="#80ce00" points="587.88,183.55 593.93,184.75 590.54,178.18 584.53,176.88"/>
<polygon fill="#e9ba41" points="515.69,122.97 522.20,124.32 519.36,116.53 512.87,115.09"/>
<polygon fill="#e8c32e" points="525.07,132.04 531.53,133.35 528.62,125.73 522.20,124.32"/>
<polygon fill="#e7d612" points="534.47,140.90 540.87,142.18 537.90,134.73 531.53,133.35"/>
<polygon fill="#6cc800" points="597.37,191.27 603.36,192.46 599.89,186.03 593.93,184.75"/>
<polygon fill="#e6e600" points="543.88,149.58 550.23,150.83 547.19,143.53 540.87,142.18"/>
<polygon fill="#59c300" points="606.90,198.83 612.83,199.98 609.27,193.71 603.36,192.46"/>
<polygon fill="#cee000" points="553.31,158.06 559.60,159.28 556.49,152.15 550.23,150.83"/>
<polygon fill="#b6db00" points="562.77,166.36 569.00,167.55 565.81,160.57 559.60,159.28"/>
<polygon fill="#47be00" points="616.47,206.20 622.35,207.34 618.69,201.21 612.83,199.98"/>
<polygon fill="#a0d600" points="572.25,174.48 578.43,175.64 575.16,168.82 569.00,167.55"/>
<polygon fill="#edb48e" points="480.79,93.19 487.55,94.57 484.91,86.18 478.17,84.69"/>
<polygon fill="#efbfac" points="471.35,83.28 478.17,84.69 475.58,76.12 468.78,74.59"/>
<polygon fill="#ecb17b" points="490.22,102.90 496.93,104.24 494.23,96.02 487.55,94.57"/>
<polygon fill="#f0d0ca" points="461.90,73.14 468.78,74.59 466.23,65.84 459.38,64.28"/>
<polygon fill="#ebb25e" points="499.66,112.40 506.31,113.71 503.55,105.66 496.93,104.24"/>
<polygon fill="#36b800" points="626.08,213.41 631.91,214.52 628.15,208.54 622.35,207.34"/>
<polygon fill="#8bd000" points="581.75,182.41 587.88,183.55 584.53,176.88 578.43,175.64"/>
<polygon fill="#eab74b" points="509.09,121.70 515.69,122.97 512.87,115.09 506.31,113.71"/>
<polygon fill="#e8c32e" points="518.54,130.80 525.07,132.04 522.20,124.32 515.69,122.97"/>
<polygon fill="#e7cf1c" points="527.99,139.69 534.47,140.90 531.53,133.35 525.07,132.04"/>
<polygon fill="#76cb00" points="591.30,190.16 597.37,191.27 593.93,184.75 587.88,183.55"/>
<polygon fill="#e6dd09" points="537.46,148.40 543.88,149.58 540.87,142.18 534.47,140.90"/>
<polygon fill="#d9e300" points="546.94,156.91 553.31,158.06 550.23,150.83 543.88,149.58"/>
<polygon fill="#63c600" points="600.88,197.74 606.90,198.83 603.36,192.46 597.37,191.27"/>
<polygon fill="#b6db00" points="556.45,165.24 562.77,166.36 559.60,159.28 553.31,158.06"/>
<polygon fill="#50c000" points="610.50,205.14 616.47,206.20 612.83,199.98 606.90,198.83"/>
<polygon fill="#a0d600" points="565.98,173.38 572.25,174.48 569.00,167.55 562.77,166.36"/>
<polygon fill="#efc4b6" points="464.44,81.93 471.35,83.28 468.78,74.59 461.90,73.14"/>
<polygon fill="#eeb798" points="473.94,91.89 480.79,93.19 478.17,84.69 471.35,83.28"/>
<polygon fill="#f0d0ca" points="454.94,71.76 461.90,73.14 459.38,64.28 452.44,62.79"/>
<polygon fill="#ecb17b" points="483.43,101.63 490.22,102.90 487.55,94.57 480.79,93.19"/>
<polygon fill="#ebb167" points="492.92,111.17 499.66,112.40 496.93,104.24 490.22,102.90"/>
<polygon fill="#eab74b" points="502.42,120.50 509.09,121.70 506.31,113.71 499.66,112.40"/>
<polygon fill="#8bd000" points="575.54,181.34 581.75,182.41 578.43,175.64 572.25,174.48"/>
<polygon fill="#3ebb00" points="620.17,212.36 626.08,213.41 622.35,207.34 616.47,206.20"/>
<polygon fill="#e9be38" points="511.92,129.63 518.54,130.80 515.69,122.97 509.09,121.70"/>
<polygon fill="#e8c825" points="521.42,138.56 527.99,139.69 525.07,132.04 518.54,130.80"/>
<polygon fill="#76cb00" points="585.14,189.12 591.30,190.16 587.88,183.55 581.75,182.41"/>
<polygon fill="#e6dd09" points="530.95,147.29 537.46,148.40 534.47,140.90 527.99,139.69"/>
<polygon fill="#2db600" points="629.89,219.42 635.74,220.44 631.91,214.52 626.08,213.41"/>
<polygon fill="#d9e300" points="540.49,155.84 546.94,156.91 543.88,149.58 537.46,148.40"/>
<polygon fill="#63c600" points="594.77,196.72 600.88,197.74 597.37,191.27 591.30,190.16"/>
<polygon fill="#c2de00" points="550.05,164.19 556.45,165.24 553.31,158.06 546.94,156.91"/>
<polygon fill="#50c000" points="604.45,204.14 610.50,205.14 606.90,198.83 600.88,197.74"/>
<polygon fill="#abd800" points="559.63,172.36 565.98,173.38 562.77,166.36 556.45,165.24"/>
<polygon fill="#efc4b6" points="457.46,80.67 464.44,81.93 461.90,73.14 454.94,71.76"/>
<polygon fill="#eebaa2" points="467.01,90.66 473.94,91.89 471.35,83.28 464.44,81.93"/>
<polygon fill="#f1d7d4" points="447.89,70.46 454.94,71.76 452.44,62.79 445.42,61.37"/>
<polygon fill="#edb285" points="476.56,100.44 483.43,101.63 480.79,93.19 473.94,91.89"/>
<polygon fill="#ecb171" points="486.11,110.01 492.92,111.17 490.22,102.90 483.43,101.63"/>
<polygon fill="#eab454" points="495.66,119.37 502.42,120.50 499.66,112.40 492.92,111.17"/>
<polygon fill="#95d300" points="569.25,180.34 575.54,181.34 572.25,174.48 565.98,173.38"/>
<polygon fill="#47be00" points="614.17,211.39 620.17,212.36 616.47,206.20 610.50,205.14"/>
<polygon fill="#e9ba41" points="505.21,128.53 511.92,129.63 509.09,121.70 502.42,120.50"/>
<polygon fill="#e8c825" points="514.78,137.50 521.42,138.56 518.54,130.80 511.92,129.63"/>
<polygon fill="#80ce00" points="578.90,188.15 585.14,189.12 581.75,182.41 575.54,181.34"/>
<polygon fill="#e7d612" points="524.35,146.26 530.95,147.29 527.99,139.69 521.42,138.56"/>
<polygon fill="#36b800" points="623.94,218.47 629.89,219.42 626.08,213.41 620.17,212.36"/>
<polygon fill="#e6e600" points="533.95,154.83 540.49,155.84 537.46,148.40 530.95,147.29"/>
<polygon fill="#6cc800" points="588.59,195.77 594.77,196.72 591.30,190.16 585.14,189.12"/>
<polygon fill="#cee000" points="543.56,163.22 550.05,164.19 546.94,156.91 540.49,155.84"/>
<polygon fill="#25b300" points="633.77,225.38 639.66,226.31 635.74,220.44 629.89,219.42"/>
<polygon fill="#59c300" points="598.32,203.22 604.45,204.14 600.88,197.74 594.77,196.72"/>
<polygon fill="#f0c9c0" points="450.39,79.48 457.46,80.67 454.94,71.76 447.89,70.46"/>
<polygon fill="#eebaa2" points="460.00,89.51 467.01,90.66 464.44,81.93 457.46,80.67"/>
<polygon fill="#f1d7d4" points="440.76,69.23 447.89,70.46 445.42,61.37 438.31,60.02"/>
<polygon fill="#b6db00" points="553.20,171.41 559.63,172.36 556.45,165.24 550.05,164.19"/>
<polygon fill="#edb48e" points="469.61,99.32 476.56,100.44 473.94,91.89 467.01,90.66"/>
<polygon fill="#ecb171" points="479.21,108.92 486.11,110.01 483.43,101.63 476.56,100.44"/>
<polygon fill="#ebb25e" points="488.81,118.32 495.66,119.37 492.92,111.17 486.11,110.01"/>
<polygon fill="#a0d600" points="562.87,179.42 569.25,180.34 565.98,173.38 559.63,172.36"/>
<polygon fill="#e9ba41" points="498.42,127.52 505.21,128.53 502.42,120.50 495.66,119.37"/>
<polygon fill="#47be00" points="608.09,210.49 614.17,211.39 610.50,205.14 604.45,204.14"/>
<polygon fill="#e8c32e" points="508.04,136.51 514.78,137.50 511.92,129.63 505.21,128.53"/>
<polygon fill="#8bd000" points="572.58,187.25 578.90,188.15 575.54,181.34 569.25,180.34"/>
<polygon fill="#e7cf1c" points="517.68,145.30 524.35,146.26 521.42,138.56 514.78,137.50"/>
<polygon fill="#3ebb00" points="617.92,217.59 623.94,218.47 620.17,212.36 614.17,211.39"/>
<polygon fill="#e6e600" points="527.32,153.91 533.95,154.83 530.95,147.29 524.35,146.26"/>
<polygon fill="#76cb00" points="582.32,194.90 588.59,195.77 585.14,189.12 578.90,188.15"/>
<polygon fill="#cee000" points="536.99,162.32 543.56,163.22 540.49,155.84 533.95,154.83"/>
<polygon fill="#2db600" points="627.80,224.52 633.77,225.38 629.89,219.42 623.94,218.47"/>
<polygon fill="#f0c9c0" points="443.23,78.36 450.39,79.48 447.89,70.46 440.76,69.23"/>
<polygon fill="#efbfac" points="452.90,88.43 460.00,89.51 457.46,80.67 450.39,79.48"/>
<polygon fill="#f1dfde" points="433.55,68.08 440.76,69.23 438.31,60.02 431.12,58.76"/>
<polygon fill="#63c600" points="592.10,202.37 598.32,203.22 594.77,196.72 588.59,195.77"/>
<polygon fill="#edb48e" points="462.57,98.28 469.61,99.32 467.01,90.66 460.00,89.51"/>
<polygon fill="#b6db00" points="546.69,170.54 553.20,171.41 550.05,164.19 543.56,163.22"/>
<polygon fill="#ecb17b" points="472.23,107.92 479.21,108.92 476.56,100.44 469.61,99.32"/>
<polygon fill="#ebb25e" points="481.89,117.35 488.81,118.32 486.11,110.01 479.21,108.92"/>
<polygon fill="#eab74b" points="491.55,126.57 498.42,127.52 495.66,119.37 488.81,118.32"/>
<polygon fill="#a0d600" points="556.41,178.58 562.87,179.42 559.63,172.36 553.20,171.41"/>
<polygon fill="#1db000" points="637.74,231.28 643.66,232.12 639.66,226.31 633.77,225.38"/>
<polygon fill="#50c000" points="601.93,209.66 608.09,210.49 604.45,204.14 598.32,203.22"/>
<polygon fill="#e8c32e" points="501.23,135.60 508.04,136.51 505.21,128.53 498.42,127.52"/>
<polygon fill="#8bd000" points="566.17,186.43 572.58,187.25 569.25,180.34 562.87,179.42"/>
<polygon fill="#e7cf1c" points="510.91,144.42 517.68,145.30 514.78,137.50 508.04,136.51"/>
<polygon fill="#3ebb00" points="611.81,216.78 617.92,217.59 614.17,211.39 608.09,210.49"/>
<polygon fill="#e6dd09" points="520.62,153.06 527.32,153.91 524.35,146.26 517.68,145.30"/>
<polygon fill="#76cb00" points="575.96,194.10 582.32,194.90 578.90,188.15 572.58,187.25"/>
<polygon fill="#d9e300" points="530.34,161.49 536.99,162.32 533.95,154.83 527.32,153.91"/>
<polygon fill="#f0d0ca" points="435.99,77.33 443.23,78.36 440.76,69.23 433.55,68.08"/>
<polygon fill="#f1dfde" points="426.25,67.01 433.55,68.08 431.12,58.76 423.85,57.57"/>
<polygon fill="#efbfac" points="445.72,87.43 452.90,88.43 450.39,79.48 443.23,78.36"/>
<polygon fill="#36b800" points="621.74,223.73 627.80,224.52 623.94,218.47 617.92,217.59"/>
<polygon fill="#eeb798" points="455.44,97.32 462.57,98.28 460.00,89.51 452.90,88.43"/>
<polygon fill="#c2de00" points="540.09,169.74 546.69,170.54 543.56,163.22 536.99,162.32"/>
<polygon fill="#63c600" points="585.80,201.59 592.10,202.37 588.59,195.77 582.32,194.90"/>
<polygon fill="#ecb17b" points="465.16,106.99 472.23,107.92 469.61,99.32 462.57,98.28"/>
<polygon fill="#ebb167" points="474.88,116.46 481.89,117.35 479.21,108.92 472.23,107.92"/>
<polygon fill="#eab74b" points="484.60,125.71 491.55,126.57 488.81,118.32 481.89,117.35"/>
<polygon fill="#abd800" points="549.86,177.81 556.41,178.58 553.20,171.41 546.69,170.54"/>
<polygon fill="#e9be38" points="494.33,134.77 501.23,135.60 498.42,127.52 491.55,126.57"/>
<polygon fill="#59c300" points="595.68,208.91 601.93,209.66 598.32,203.22 592.10,202.37"/>
<polygon fill="#25b300" points="631.73,230.51 637.74,231.28 633.77,225.38 627.80,224.52"/>
<polygon fill="#e8c825" points="504.07,143.62 510.91,144.42 508.04,136.51 501.23,135.60"/>
<polygon fill="#95d300" points="559.67,185.68 566.17,186.43 562.87,179.42 556.41,178.58"/>
<polygon fill="#e7d612" points="513.82,152.28 520.62,153.06 517.68,145.30 510.91,144.42"/>
<polygon fill="#47be00" points="605.61,216.05 611.81,216.78 608.09,210.49 601.93,209.66"/>
<polygon fill="#1db000" points="641.79,237.12 647.74,237.87 643.66,232.12 637.74,231.28"/>
<polygon fill="#80ce00" points="569.52,193.38 575.96,194.10 572.58,187.25 566.17,186.43"/>
<polygon fill="#d9e300" points="523.60,160.75 530.34,161.49 527.32,153.91 520.62,153.06"/>
<polygon fill="#f0d0ca" points="428.67,76.38 435.99,77.33 433.55,68.08 426.25,67.01"/>
<polygon fill="#f2e8e8" points="418.87,66.02 426.25,67.01 423.85,57.57 416.49,56.46"/>
<polygon fill="#efc4b6" points="438.46,86.52 445.72,87.43 443.23,78.36 435.99,77.33"/>
<polygon fill="#eeb798" points="448.23,96.44 455.44,97.32 452.90,88.43 445.72,87.43"/>
<polygon fill="#36b800" points="615.59,223.02 621.74,223.73 617.92,217.59 611.81,216.78"/>
<polygon fill="#edb285" points="458.01,106.15 465.16,106.99 462.57,98.28 455.44,97.32"/>
<polygon fill="#c2de00" points="533.40,169.03 540.09,169.74 536.99,162.32 530.34,161.49"/>
<polygon fill="#6cc800" points="579.41,200.90 585.80,201.59 582.32,194.90 575.96,194.10"/>
<polygon fill="#ebb167" points="467.78,115.64 474.88,116.46 472.23,107.92 465.16,106.99"/>
<polygon fill="#eab454" points="477.56,124.93 484.60,125.71 481.89,117.35 474.88,116.46"/>
<polygon fill="#abd800" points="543.23,177.11 549.86,177.81 546.69,170.54 540.09,169.74"/>
<polygon fill="#e9be38" points="487.34,134.02 494.33,134.77 491.55,126.57 484.60,125.71"/>
<polygon fill="#59c300" points="589.34,208.24 595.68,208.91 592.10,202.37 585.80,201.59"/>
<polygon fill="#2db600" points="625.64,229.82 631.73,230.51 627.80,224.52 621.74,223.73"/>
<polygon fill="#e8c825" points="497.13,142.90 504.07,143.62 501.23,135.60 494.33,134.77"/>
<polygon fill="#95d300" points="553.09,185.02 559.67,185.68 556.41,178.58 549.86,177.81"/>
<polygon fill="#e7d612" points="506.94,151.59 513.82,152.28 510.91,144.42 504.07,143.62"/>
<polygon fill="#50c000" points="599.32,215.40 605.61,216.05 601.93,209.66 595.68,208.91"/>
<polygon fill="#8bd000" points="562.99,192.74 569.52,193.38 566.17,186.43 559.67,185.68"/>
<polygon fill="#1db000" points="635.75,236.45 641.79,237.12 637.74,231.28 631.73,230.51"/>
<polygon fill="#e6e600" points="516.77,160.09 523.60,160.75 520.62,153.06 513.82,152.28"/>
<polygon fill="#f1d7d4" points="421.26,75.51 428.67,76.38 426.25,67.01 418.87,66.02"/>
<polygon fill="#efc4b6" points="431.11,85.69 438.46,86.52 435.99,77.33 428.67,76.38"/>
<polygon fill="#eebaa2" points="440.94,95.64 448.23,96.44 445.72,87.43 438.46,86.52"/>
<polygon fill="#edb285" points="450.77,105.38 458.01,106.15 455.44,97.32 448.23,96.44"/>
<polygon fill="#cee000" points="526.63,168.39 533.40,169.03 530.34,161.49 523.60,160.75"/>
<polygon fill="#3ebb00" points="609.36,222.39 615.59,223.02 611.81,216.78 605.61,216.05"/>
<polygon fill="#76cb00" points="572.93,200.28 579.41,200.90 575.96,194.10 569.52,193.38"/>
<polygon fill="#ecb171" points="460.60,114.91 467.78,115.64 465.16,106.99 458.01,106.15"/>
<polygon fill="#eab454" points="470.43,124.23 477.56,124.93 474.88,116.46 467.78,115.64"/>
<polygon fill="#16ae00" points="645.93,242.91 651.91,243.56 647.74,237.87 641.79,237.12"/>
<polygon fill="#b6db00" points="536.51,176.50 543.23,177.11 540.09,169.74 533.40,169.03"/>
<polygon fill="#e9ba41" points="480.27,133.35 487.34,134.02 484.60,125.71 477.56,124.93"/>
<polygon fill="#63c600" points="582.92,207.64 589.34,208.24 585.80,201.59 579.41,200.90"/>
<polygon fill="#2db600" points="619.46,229.21 625.64,229.82 621.74,223.73 615.59,223.02"/>
<polygon fill="#e8c32e" points="490.11,142.27 497.13,142.90 494.33,134.77 487.34,134.02"/>
<polygon fill="#a0d600" points="546.42,184.43 553.09,185.02 549.86,177.81 543.23,177.11"/>
<polygon fill="#e7cf1c" points="499.98,150.98 506.94,151.59 504.07,143.62 497.13,142.90"/>
<polygon fill="#50c000" points="592.95,214.82 599.32,215.40 595.68,208.91 589.34,208.24"/>
<polygon fill="#8bd000" points="556.37,192.18 562.99,192.74 559.67,185.68 553.09,185.02"/>
<polygon fill="#e6e600" points="509.86,159.50 516.77,160.09 513.82,152.28 506.94,151.59"/>
<polygon fill="#25b300" points="629.62,235.85 635.75,236.45 631.73,230.51 625.64,229.82"/>
<polygon fill="#f0c9c0" points="423.67,84.94 431.11,85.69 428.67,76.38 421.26,75.51"/>
<polygon fill="#eebaa2" points="433.56,94.93 440.94,95.64 438.46,86.52 431.11,85.69"/>
<polygon fill="#edb285" points="443.45,104.70 450.77,105.38 448.23,96.44 440.94,95.64"/>
<polygon fill="#cee000" points="519.77,167.83 526.63,168.39 523.60,160.75 516.77,160.09"/>
<polygon fill="#ecb171" points="453.33,114.27 460.60,114.91 458.01,106.15 450.77,105.38"/>
<polygon fill="#47be00" points="603.04,221.83 609.36,222.39 605.61,216.05 599.32,215.40"/>
<polygon fill="#76cb00" points="566.37,199.74 572.93,200.28 569.52,193.38 562.99,192.74"/>
<polygon fill="#ebb25e" points="463.22,123.62 470.43,124.23 467.78,115.64 460.60,114.91"/>
<polygon fill="#16ae00" points="639.86,242.33 645.93,242.91 641.79,237.12 635.75,236.45"/>
<polygon fill="#b6db00" points="529.70,175.98 536.51,176.50 533.40,169.03 526.63,168.39"/>
<polygon fill="#e9ba41" points="473.11,132.77 480.27,133.35 477.56,124.93 470.43,124.23"/>
<polygon fill="#6cc800" points="576.40,207.12 582.92,207.64 579.41,200.90 572.93,200.28"/>
<polygon fill="#e8c32e" points="483.01,141.71 490.11,142.27 487.34,134.02 480.27,133.35"/>
<polygon fill="#36b800" points="613.19,228.67 619.46,229.21 615.59,223.02 609.36,222.39"/>
<polygon fill="#a0d600" points="539.67,183.93 546.42,184.43 543.23,177.11 536.51,176.50"/>
<polygon fill="#e7cf1c" points="492.93,150.46 499.98,150.98 497.13,142.90 490.11,142.27"/>
<polygon fill="#0eab00" points="650.16,248.64 656.18,249.20 651.91,243.56 645.93,242.91"/>
<polygon fill="#59c300" points="586.49,214.33 592.95,214.82 589.34,208.24 582.92,207.64"/>
<polygon fill="#95d300" points="549.67,191.70 556.37,192.18 553.09,185.02 546.42,184.43"/>
<polygon fill="#e6dd09" points="502.86,159.01 509.86,159.50 506.94,151.59 499.98,150.98"/>
<polygon fill="#eebaa2" points="426.10,94.30 433.56,94.93 431.11,85.69 423.67,84.94"/>
<polygon fill="#2db600" points="623.41,235.34 629.62,235.85 625.64,229.82 619.46,229.21"/>
<polygon fill="#edb48e" points="436.04,104.11 443.45,104.70 440.94,95.64 433.56,94.93"/>
<polygon fill="#ecb171" points="445.98,113.71 453.33,114.27 450.77,105.38 443.45,104.70"/>
<polygon fill="#d9e300" points="512.82,167.36 519.77,167.83 516.77,160.09 509.86,159.50"/>
<polygon fill="#80ce00" points="559.72,199.28 566.37,199.74 562.99,192.74 556.37,192.18"/>
<polygon fill="#47be00" points="596.64,221.36 603.04,221.83 599.32,215.40 592.95,214.82"/>
<polygon fill="#ebb25e" points="455.92,123.09 463.22,123.62 460.60,114.91 453.33,114.27"/>
<polygon fill="#eab74b" points="465.86,132.27 473.11,132.77 470.43,124.23 463.22,123.62"/>
<polygon fill="#c2de00" points="522.81,175.53 529.70,175.98 526.63,168.39 519.77,167.83"/>
<polygon fill="#1db000" points="633.69,241.83 639.86,242.33 635.75,236.45 629.62,235.85"/>
<polygon fill="#e9be38" points="475.82,141.24 483.01,141.71 480.27,133.35 473.11,132.77"/>
<polygon fill="#6cc800" points="569.81,206.69 576.40,207.12 572.93,200.28 566.37,199.74"/>
<polygon fill="#3ebb00" points="606.84,228.22 613.19,228.67 609.36,222.39 603.04,221.83"/>
<polygon fill="#abd800" points="532.83,183.51 539.67,183.93 536.51,176.50 529.70,175.98"/>
<polygon fill="#e7cf1c" points="485.79,150.02 492.93,150.46 490.11,142.27 483.01,141.71"/>
<polygon fill="#16ae00" points="644.05,248.16 650.16,248.64 645.93,242.91 639.86,242.33"/>
<polygon fill="#59c300" points="579.95,213.92 586.49,214.33 582.92,207.64 576.40,207.12"/>
<polygon fill="#e6dd09" points="495.78,158.59 502.86,159.01 499.98,150.98 492.93,150.46"/>
<polygon fill="#95d300" points="542.88,191.30 549.67,191.70 546.42,184.43 539.67,183.93"/>
<polygon fill="#edb48e" points="428.54,103.61 436.04,104.11 433.56,94.93 426.10,94.30"/>
<polygon fill="#2db600" points="617.11,234.90 623.41,235.34 619.46,229.21 613.19,228.67"/>
<polygon fill="#ecb17b" points="438.54,113.23 445.98,113.71 443.45,104.70 436.04,104.11"/>
<polygon fill="#d9e300" points="505.79,166.98 512.82,167.36 509.86,159.50 502.86,159.01"/>
<polygon fill="#ebb167" points="448.53,122.65 455.92,123.09 453.33,114.27 445.98,113.71"/>
<polygon fill="#80ce00" points="552.98,198.91 559.72,199.28 556.37,192.18 549.67,191.70"/>
<polygon fill="#50c000" points="590.14,220.97 596.64,221.36 592.95,214.82 586.49,214.33"/>
<polygon fill="#07a800" points="654.49,254.32 660.54,254.78 656.18,249.20 650.16,248.64"/>
<polygon fill="#eab74b" points="458.53,131.86 465.86,132.27 463.22,123.62 455.92,123.09"/>
<polygon fill="#c2de00" points="515.82,175.17 522.81,175.53 519.77,167.83 512.82,167.36"/>
<polygon fill="#25b300" points="627.44,241.41 633.69,241.83 629.62,235.85 623.41,235.34"/>
<polygon fill="#e9be38" points="468.54,140.86 475.82,141.24 473.11,132.77 465.86,132.27"/>
<polygon fill="#76cb00" points="563.12,206.34 569.81,206.69 566.37,199.74 559.72,199.28"/>
<polygon fill="#abd800" points="525.89,183.17 532.83,183.51 529.70,175.98 522.81,175.53"/>
<polygon fill="#3ebb00" points="600.40,227.84 606.84,228.22 603.04,221.83 596.64,221.36"/>
<polygon fill="#e8c825" points="478.56,149.66 485.79,150.02 483.01,141.71 475.82,141.24"/>
<polygon fill="#e7d612" points="488.60,158.27 495.78,158.59 492.93,150.46 485.79,150.02"/>
<polygon fill="#63c600" points="573.31,213.59 579.95,213.92 576.40,207.12 569.81,206.69"/>
<polygon fill="#16ae00" points="637.86,247.76 644.05,248.16 639.86,242.33 633.69,241.83"/>
<polygon fill="#a0d600" points="536.00,190.99 542.88,191.30 539.67,183.93 532.83,183.51"/>
<polygon fill="#ecb17b" points="431.01,112.85 438.54,113.23 436.04,104.11 428.54,103.61"/>
<polygon fill="#36b800" points="610.71,234.55 617.11,234.90 613.19,228.67 606.84,228.22"/>
<polygon fill="#e6e600" points="498.66,166.68 505.79,166.98 502.86,159.01 495.78,158.59"/>
<polygon fill="#ebb167" points="441.06,122.30 448.53,122.65 445.98,113.71 438.54,113.23"/>
<polygon fill="#8bd000" points="546.15,198.62 552.98,198.91 549.67,191.70 542.88,191.30"/>
<polygon fill="#50c000" points="583.56,220.66 590.14,220.97 586.49,214.33 579.95,213.92"/>
<polygon fill="#eab454" points="451.11,131.54 458.53,131.86 455.92,123.09 448.53,122.65"/>
<polygon fill="#cee000" points="508.75,174.90 515.82,175.17 512.82,167.36 505.79,166.98"/>
<polygon fill="#0eab00" points="648.35,253.93 654.49,254.32 650.16,248.64 644.05,248.16"/>
<polygon fill="#e9be38" points="461.17,140.57 468.54,140.86 465.86,132.27 458.53,131.86"/>
<polygon fill="#25b300" points="621.10,241.08 627.44,241.41 623.41,235.34 617.11,234.90"/>
<polygon fill="#76cb00" points="556.34,206.07 563.12,206.34 559.72,199.28 552.98,198.91"/>
<polygon fill="#b6db00" points="518.88,182.93 525.89,183.17 522.81,175.53 515.82,175.17"/>
<polygon fill="#e8c825" points="471.25,149.40 478.56,149.66 475.82,141.24 468.54,140.86"/>
<polygon fill="#47be00" points="593.86,227.56 600.40,227.84 596.64,221.36 590.14,220.97"/>
<polygon fill="#e7d612" points="481.34,158.03 488.60,158.27 485.79,150.02 478.56,149.66"/>
<polygon fill="#07a800" points="658.92,259.94 665.01,260.31 660.54,254.78 654.49,254.32"/>
<polygon fill="#a0d600" points="529.03,190.77 536.00,190.99 532.83,183.51 525.89,183.17"/>
<polygon fill="#63c600" points="566.58,213.34 573.31,213.59 569.81,206.69 563.12,206.34"/>
<polygon fill="#1db000" points="631.57,247.44 637.86,247.76 633.69,241.83 627.44,241.41"/>
<polygon fill="#e6e600" points="491.45,166.47 498.66,166.68 495.78,158.59 488.60,158.27"/>
<polygon fill="#36b800" points="604.23,234.28 610.71,234.55 606.84,228.22 600.40,227.84"/>
<polygon fill="#ebb167" points="433.50,122.04 441.06,122.30 438.54,113.23 431.01,112.85"/>
<polygon fill="#8bd000" points="539.23,198.42 546.15,198.62 542.88,191.30 536.00,190.99"/>
<polygon fill="#eab454" points="443.61,131.30 451.11,131.54 448.53,122.65 441.06,122.30"/>
<polygon fill="#59c300" points="576.88,220.44 583.56,220.66 579.95,213.92 573.31,213.59"/>
<polygon fill="#cee000" points="501.60,174.71 508.75,174.90 505.79,166.98 498.66,166.68"/>
<polygon fill="#e9ba41" points="453.72,140.37 461.17,140.57 458.53,131.86 451.11,131.54"/>
<polygon fill="#16ae00" points="642.11,253.63 648.35,253.93 644.05,248.16 637.86,247.76"/>
<polygon fill="#2db600" points="614.67,240.83 621.10,241.08 617.11,234.90 610.71,234.55"/>
<polygon fill="#80ce00" points="549.47,205.90 556.34,206.07 552.98,198.91 546.15,198.62"/>
<polygon fill="#b6db00" points="511.77,182.77 518.88,182.93 515.82,175.17 508.75,174.90"/>
<polygon fill="#e8c32e" points="463.85,149.23 471.25,149.40 468.54,140.86 461.17,140.57"/>
<polygon fill="#47be00" points="587.24,227.35 593.86,227.56 590.14,220.97 583.56,220.66"/>
<polygon fill="#e7cf1c" points="473.99,157.89 481.34,158.03 478.56,149.66 471.25,149.40"/>
<polygon fill="#a0d600" points="521.98,190.63 529.03,190.77 525.89,183.17 518.88,182.93"/>
<polygon fill="#6cc800" points="559.77,213.19 566.58,213.34 563.12,206.34 556.34,206.07"/>
<polygon fill="#07a800" points="652.74,259.65 658.92,259.94 654.49,254.32 648.35,253.93"/>
<polygon fill="#1db000" points="625.19,247.20 631.57,247.44 627.44,241.41 621.10,241.08"/>
<polygon fill="#e6dd09" points="484.16,166.35 491.45,166.47 488.60,158.27 481.34,158.03"/>
<polygon fill="#3ebb00" points="597.66,234.09 604.23,234.28 600.40,227.84 593.86,227.56"/>
<polygon fill="#95d300" points="532.22,198.31 539.23,198.42 536.00,190.99 529.03,190.77"/>
<polygon fill="#eab454" points="436.01,131.17 443.61,131.30 441.06,122.30 433.50,122.04"/>
<polygon fill="#59c300" points="570.11,220.30 576.88,220.44 573.31,213.59 566.58,213.34"/>
<polygon fill="#d9e300" points="494.35,174.62 501.60,174.71 498.66,166.68 491.45,166.47"/>
<polygon fill="#e9ba41" points="446.18,140.26 453.72,140.37 451.11,131.54 443.61,131.30"/>
<polygon fill="#16ae00" points="635.78,253.41 642.11,253.63 637.86,247.76 631.57,247.44"/>
<polygon fill="#80ce00" points="542.52,205.81 549.47,205.90 546.15,198.62 539.23,198.42"/>
<polygon fill="#2db600" points="608.15,240.66 614.67,240.83 610.71,234.55 604.23,234.28"/>
<polygon fill="#e8c32e" points="456.36,149.15 463.85,149.23 461.17,140.57 453.72,140.37"/>
<polygon fill="#c2de00" points="504.57,182.70 511.77,182.77 508.75,174.90 501.60,174.71"/>
<polygon fill="#50c000" points="580.52,227.24 587.24,227.35 583.56,220.66 576.88,220.44"/>
<polygon fill="#e7cf1c" points="466.55,157.84 473.99,157.89 471.25,149.40 463.85,149.23"/>
<polygon fill="#abd800" points="514.83,190.59 521.98,190.63 518.88,182.93 511.77,182.77"/>
<polygon fill="#6cc800" points="552.86,213.12 559.77,213.19 556.34,206.07 549.47,205.90"/>
<polygon fill="#0eab00" points="646.47,259.45 652.74,259.65 648.35,253.93 642.11,253.63"/>
<polygon fill="#e6dd09" points="476.77,166.33 484.16,166.35 481.34,158.03 473.99,157.89"/>
<polygon fill="#25b300" points="618.72,247.06 625.19,247.20 621.10,241.08 614.67,240.83"/>
<polygon fill="#3ebb00" points="590.99,234.00 597.66,234.09 593.86,227.56 587.24,227.35"/>
<polygon fill="#95d300" points="525.13,198.29 532.22,198.31 529.03,190.77 521.98,190.63"/>
<polygon fill="#d9e300" points="487.01,174.62 494.35,174.62 491.45,166.47 484.16,166.35"/>
<polygon fill="#63c600" points="563.26,220.26 570.11,220.30 566.58,213.34 559.77,213.19"/>
<polygon fill="#e9ba41" points="438.55,140.24 446.18,140.26 443.61,131.30 436.01,131.17"/>
<polygon fill="#1db000" points="629.37,253.28 635.78,253.41 631.57,247.44 625.19,247.20"/>
<polygon fill="#e8c32e" points="448.78,149.16 456.36,149.15 453.72,140.37 446.18,140.26"/>
<polygon fill="#80ce00" points="535.47,205.81 542.52,205.81 539.23,198.42 532.22,198.31"/>
<polygon fill="#c2de00" points="497.28,182.72 504.57,182.70 501.60,174.71 494.35,174.62"/>
<polygon fill="#36b800" points="601.54,240.58 608.15,240.66 604.23,234.28 597.66,234.09"/>
<polygon fill="#50c000" points="573.72,227.21 580.52,227.24 576.88,220.44 570.11,220.30"/>
<polygon fill="#e7cf1c" points="459.02,157.88 466.55,157.84 463.85,149.23 456.36,149.15"/>
<polygon fill="#abd800" points="507.59,190.64 514.83,190.59 511.77,182.77 504.57,182.70"/>
<polygon fill="#76cb00" points="545.86,213.14 552.86,213.12 549.47,205.90 542.52,205.81"/>
<polygon fill="#e6dd09" points="469.29,166.39 476.77,166.33 473.99,157.89 466.55,157.84"/>
<polygon fill="#0eab00" points="640.10,259.33 646.47,259.45 642.11,253.63 635.78,253.41"/>
<polygon fill="#25b300" points="612.16,246.99 618.72,247.06 614.67,240.83 608.15,240.66"/>
<polygon fill="#47be00" points="584.24,233.99 590.99,234.00 587.24,227.35 580.52,227.24"/>
<polygon fill="#95d300" points="517.94,198.36 525.13,198.29 521.98,190.63 514.83,190.59"/>
<polygon fill="#d9e300" points="479.58,174.71 487.01,174.62 484.16,166.35 476.77,166.33"/>
<polygon fill="#63c600" points="556.31,220.30 563.26,220.26 559.77,213.19 552.86,213.12"/>
<polygon fill="#e9be38" points="441.11,149.27 448.78,149.16 446.18,140.26 438.55,140.24"/>
<polygon fill="#c2de00" points="489.90,182.84 497.28,182.72 494.35,174.62 487.01,174.62"/>
<polygon fill="#8bd000" points="528.33,205.90 535.47,205.81 532.22,198.31 525.13,198.29"/>
<polygon fill="#1db000" points="622.85,253.24 629.37,253.28 625.19,247.20 618.72,247.06"/>
<polygon fill="#36b800" points="594.83,240.59 601.54,240.58 597.66,234.09 590.99,234.00"/>
<polygon fill="#e8c825" points="451.41,158.01 459.02,157.88 456.36,149.15 448.78,149.16"/>
<polygon fill="#59c300" points="566.82,227.28 573.72,227.21 570.11,220.30 563.26,220.26"/>
<polygon fill="#b6db00" points="500.26,190.78 507.59,190.64 504.57,182.70 497.28,182.72"/>
<polygon fill="#76cb00" points="538.77,213.26 545.86,213.14 542.52,205.81 535.47,205.81"/>
<polygon fill="#e7d612" points="461.72,166.56 469.29,166.39 466.55,157.84 459.02,157.88"/>
<polygon fill="#16ae00" points="633.64,259.31 640.10,259.33 635.78,253.41 629.37,253.28"/>
<polygon fill="#2db600" points="605.50,247.02 612.16,246.99 608.15,240.66 601.54,240.58"/>
<polygon fill="#47be00" points="577.39,234.07 584.24,233.99 580.52,227.24 573.72,227.21"/>
<polygon fill="#a0d600" points="510.66,198.53 517.94,198.36 514.83,190.59 507.59,190.64"/>
<polygon fill="#e6e600" points="472.07,174.90 479.58,174.71 476.77,166.33 469.29,166.39"/>
<polygon fill="#6cc800" points="549.27,220.44 556.31,220.30 552.86,213.12 545.86,213.14"/>
<polygon fill="#cee000" points="482.44,183.06 489.90,182.84 487.01,174.62 479.58,174.71"/>
<polygon fill="#8bd000" points="521.10,206.09 528.33,205.90 525.13,198.29 517.94,198.36"/>
<polygon fill="#25b300" points="616.25,253.28 622.85,253.24 618.72,247.06 612.16,246.99"/>
<polygon fill="#3ebb00" points="588.03,240.70 594.83,240.59 590.99,234.00 584.24,233.99"/>
<polygon fill="#e8c825" points="443.70,158.25 451.41,158.01 448.78,149.16 441.11,149.27"/>
<polygon fill="#59c300" points="559.83,227.43 566.82,227.28 563.26,220.26 556.31,220.30"/>
<polygon fill="#b6db00" points="492.84,191.02 500.26,190.78 497.28,182.72 489.90,182.84"/>
<polygon fill="#e7d612" points="454.07,166.82 461.72,166.56 459.02,157.88 451.41,158.01"/>
<polygon fill="#80ce00" points="531.59,213.47 538.77,213.26 535.47,205.81 528.33,205.90"/>
<polygon fill="#2db600" points="598.75,247.14 605.50,247.02 601.54,240.58 594.83,240.59"/>
<polygon fill="#16ae00" points="627.09,259.37 633.64,259.31 629.37,253.28 622.85,253.24"/>
<polygon fill="#a0d600" points="503.29,198.79 510.66,198.53 507.59,190.64 500.26,190.78"/>
<polygon fill="#e6e600" points="464.46,175.19 472.07,174.90 469.29,166.39 461.72,166.56"/>
<polygon fill="#50c000" points="570.45,234.25 577.39,234.07 573.72,227.21 566.82,227.28"/>
<polygon fill="#6cc800" points="542.14,220.67 549.27,220.44 545.86,213.14 538.77,213.26"/>
<polygon fill="#cee000" points="474.88,183.37 482.44,183.06 479.58,174.71 472.07,174.90"/>
<polygon fill="#8bd000" points="513.78,206.38 521.10,206.09 517.94,198.36 510.66,198.53"/>
<polygon fill="#25b300" points="609.55,253.42 616.25,253.28 612.16,246.99 605.50,247.02"/>
<polygon fill="#3ebb00" points="581.14,240.89 588.03,240.70 584.24,233.99 577.39,234.07"/>
<polygon fill="#59c300" points="552.74,227.68 559.83,227.43 556.31,220.30 549.27,220.44"/>
<polygon fill="#b6db00" points="485.33,191.35 492.84,191.02 489.90,182.84 482.44,183.06"/>
<polygon fill="#e7d612" points="446.32,167.18 454.07,166.82 451.41,158.01 443.70,158.25"/>
<polygon fill="#80ce00" points="524.32,213.78 531.59,213.47 528.33,205.90 521.10,206.09"/>
<polygon fill="#a0d600" points="495.83,199.15 503.29,198.79 500.26,190.78 492.84,191.02"/>
<polygon fill="#e6e600" points="456.76,175.58 464.46,175.19 461.72,166.56 454.07,166.82"/>
<polygon fill="#36b800" points="591.91,247.36 598.75,247.14 594.83,240.59 588.03,240.70"/>
<polygon fill="#1db000" points="620.44,259.52 627.09,259.37 622.85,253.24 616.25,253.28"/>
<polygon fill="#50c000" points="563.41,234.52 570.45,234.25 566.82,227.28 559.83,227.43"/>
<polygon fill="#6cc800" points="534.91,221.00 542.14,220.67 538.77,213.26 531.59,213.47"/>
<polygon fill="#cee000" points="467.23,183.78 474.88,183.37 472.07,174.90 464.46,175.19"/>
<polygon fill="#95d300" points="506.36,206.76 513.78,206.38 510.66,198.53 503.29,198.79"/>
<polygon fill="#2db600" points="602.76,253.65 609.55,253.42 605.50,247.02 598.75,247.14"/>
<polygon fill="#47be00" points="574.15,241.18 581.14,240.89 577.39,234.07 570.45,234.25"/>
<polygon fill="#63c600" points="545.56,228.03 552.74,227.68 549.27,220.44 542.14,220.67"/>
<polygon fill="#b6db00" points="477.73,191.79 485.33,191.35 482.44,183.06 474.88,183.37"/>
<polygon fill="#80ce00" points="516.95,214.18 524.32,213.78 521.10,206.09 513.78,206.38"/>
<polygon fill="#e6e600" points="448.97,176.07 456.76,175.58 454.07,166.82 446.32,167.18"/>
<polygon fill="#abd800" points="488.27,199.61 495.83,199.15 492.84,191.02 485.33,191.35"/>
<polygon fill="#36b800" points="584.97,247.66 591.91,247.36 588.03,240.70 581.14,240.89"/>
<polygon fill="#50c000" points="556.28,234.89 563.41,234.52 559.83,227.43 552.74,227.68"/>
<polygon fill="#1db000" points="613.69,259.77 620.44,259.52 616.25,253.28 609.55,253.42"/>
<polygon fill="#76cb00" points="527.59,221.42 534.91,221.00 531.59,213.47 524.32,213.78"/>
<polygon fill="#d9e300" points="459.49,184.29 467.23,183.78 464.46,175.19 456.76,175.58"/>
<polygon fill="#95d300" points="498.85,207.24 506.36,206.76 503.29,198.79 495.83,199.15"/>
<polygon fill="#47be00" points="567.07,241.57 574.15,241.18 570.45,234.25 563.41,234.52"/>
<polygon fill="#2db600" points="595.87,253.97 602.76,253.65 598.75,247.14 591.91,247.36"/>
<polygon fill="#c2de00" points="470.04,192.33 477.73,191.79 474.88,183.37 467.23,183.78"/>
<polygon fill="#63c600" points="538.29,228.48 545.56,228.03 542.14,220.67 534.91,221.00"/>
<polygon fill="#80ce00" points="509.49,214.69 516.95,214.18 513.78,206.38 506.36,206.76"/>
<polygon fill="#abd800" points="480.62,200.17 488.27,199.61 485.33,191.35 477.73,191.79"/>
<polygon fill="#3ebb00" points="577.93,248.07 584.97,247.66 581.14,240.89 574.15,241.18"/>
<polygon fill="#59c300" points="549.06,235.35 556.28,234.89 552.74,227.68 545.56,228.03"/>
<polygon fill="#25b300" points="606.85,260.11 613.69,259.77 609.55,253.42 602.76,253.65"/>
<polygon fill="#76cb00" points="520.18,221.95 527.59,221.42 524.32,213.78 516.95,214.18"/>
<polygon fill="#d9e300" points="451.65,184.91 459.49,184.29 456.76,175.58 448.97,176.07"/>
<polygon fill="#95d300" points="491.25,207.82 498.85,207.24 495.83,199.15 488.27,199.61"/>
<polygon fill="#c2de00" points="462.25,192.97 470.04,192.33 467.23,183.78 459.49,184.29"/>
<polygon fill="#47be00" points="559.89,242.05 567.07,241.57 563.41,234.52 556.28,234.89"/>
<polygon fill="#2db600" points="588.88,254.39 595.87,253.97 591.91,247.36 584.97,247.66"/>
<polygon fill="#63c600" points="530.92,229.02 538.29,228.48 534.91,221.00 527.59,221.42"/>
<polygon fill="#8bd000" points="501.93,215.29 509.49,214.69 506.36,206.76 498.85,207.24"/>
<polygon fill="#abd800" points="472.88,200.83 480.62,200.17 477.73,191.79 470.04,192.33"/>
<polygon fill="#3ebb00" points="570.80,248.57 577.93,248.07 574.15,241.18 567.07,241.57"/>
<polygon fill="#59c300" points="541.74,235.92 549.06,235.35 545.56,228.03 538.29,228.48"/>
<polygon fill="#25b300" points="599.92,260.54 606.85,260.11 602.76,253.65 595.87,253.97"/>
<polygon fill="#76cb00" points="512.67,222.57 520.18,221.95 516.95,214.18 509.49,214.69"/>
<polygon fill="#a0d600" points="483.56,208.51 491.25,207.82 488.27,199.61 480.62,200.17"/>
<polygon fill="#c2de00" points="454.37,193.71 462.25,192.97 459.49,184.29 451.65,184.91"/>
<polygon fill="#50c000" points="552.62,242.64 559.89,242.05 556.28,234.89 549.06,235.35"/>
<polygon fill="#6cc800" points="523.46,229.67 530.92,229.02 527.59,221.42 520.18,221.95"/>
<polygon fill="#36b800" points="581.80,254.91 588.88,254.39 584.97,247.66 577.93,248.07"/>
<polygon fill="#8bd000" points="494.29,216.00 501.93,215.29 498.85,207.24 491.25,207.82"/>
<polygon fill="#abd800" points="465.05,201.60 472.88,200.83 470.04,192.33 462.25,192.97"/>
<polygon fill="#59c300" points="534.32,236.59 541.74,235.92 538.29,228.48 530.92,229.02"/>
<polygon fill="#3ebb00" points="563.58,249.17 570.80,248.57 567.07,241.57 559.89,242.05"/>
<polygon fill="#76cb00" points="505.07,223.30 512.67,222.57 509.49,214.69 501.93,215.29"/>
<polygon fill="#2db600" points="592.88,261.08 599.92,260.54 595.87,253.97 588.88,254.39"/>
<polygon fill="#a0d600" points="475.77,209.30 483.56,208.51 480.62,200.17 472.88,200.83"/>
<polygon fill="#50c000" points="545.25,243.32 552.62,242.64 549.06,235.35 541.74,235.92"/>
<polygon fill="#6cc800" points="515.90,230.42 523.46,229.67 520.18,221.95 512.67,222.57"/>
<polygon fill="#36b800" points="574.62,255.54 581.80,254.91 577.93,248.07 570.80,248.57"/>
<polygon fill="#8bd000" points="486.54,216.81 494.29,216.00 491.25,207.82 483.56,208.51"/>
<polygon fill="#b6db00" points="457.12,202.48 465.05,201.60 462.25,192.97 454.37,193.71"/>
<polygon fill="#63c600" points="526.81,237.36 534.32,236.59 530.92,229.02 523.46,229.67"/>
<polygon fill="#47be00" points="556.26,249.88 563.58,249.17 559.89,242.05 552.62,242.64"/>
<polygon fill="#80ce00" points="497.37,224.14 505.07,223.30 501.93,215.29 494.29,216.00"/>
<polygon fill="#2db600" points="585.75,261.72 592.88,261.08 588.88,254.39 581.80,254.91"/>
<polygon fill="#a0d600" points="467.89,210.20 475.77,209.30 472.88,200.83 465.05,201.60"/>
<polygon fill="#6cc800" points="508.25,231.28 515.90,230.42 512.67,222.57 505.07,223.30"/>
<polygon fill="#50c000" points="537.78,244.11 545.25,243.32 541.74,235.92 534.32,236.59"/>
<polygon fill="#8bd000" points="478.71,217.73 486.54,216.81 483.56,208.51 475.77,209.30"/>
<polygon fill="#36b800" points="567.34,256.26 574.62,255.54 570.80,248.57 563.58,249.17"/>
<polygon fill="#63c600" points="519.20,238.24 526.81,237.36 523.46,229.67 515.90,230.42"/>
<polygon fill="#80ce00" points="489.58,225.08 497.37,224.14 494.29,216.00 486.54,216.81"/>
<polygon fill="#47be00" points="548.83,250.69 556.26,249.88 552.62,242.64 545.25,243.32"/>
<polygon fill="#a0d600" points="459.92,211.21 467.89,210.20 465.05,201.60 457.12,202.48"/>
<polygon fill="#2db600" points="578.52,262.46 585.75,261.72 581.80,254.91 574.62,255.54"/>
<polygon fill="#6cc800" points="500.50,232.24 508.25,231.28 505.07,223.30 497.37,224.14"/>
<polygon fill="#50c000" points="530.22,245.01 537.78,244.11 534.32,236.59 526.81,237.36"/>
<polygon fill="#95d300" points="470.77,218.76 478.71,217.73 475.77,209.30 467.89,210.20"/>
<polygon fill="#3ebb00" points="559.97,257.09 567.34,256.26 563.58,249.17 556.26,249.88"/>
<polygon fill="#63c600" points="511.50,239.22 519.20,238.24 515.90,230.42 508.25,231.28"/>
<polygon fill="#80ce00" points="481.69,226.13 489.58,225.08 486.54,216.81 478.71,217.73"/>
<polygon fill="#47be00" points="541.32,251.61 548.83,250.69 545.25,243.32 537.78,244.11"/>
<polygon fill="#36b800" points="571.19,263.31 578.52,262.46 574.62,255.54 567.34,256.26"/>
<polygon fill="#76cb00" points="492.66,233.32 500.50,232.24 497.37,224.14 489.58,225.08"/>
<polygon fill="#59c300" points="522.56,246.02 530.22,245.01 526.81,237.36 519.20,238.24"/>
<polygon fill="#95d300" points="462.75,219.91 470.77,218.76 467.89,210.20 459.92,211.21"/>
<polygon fill="#3ebb00" points="552.49,258.02 559.97,257.09 556.26,249.88 548.83,250.69"/>
<polygon fill="#80ce00" points="473.70,227.30 481.69,226.13 478.71,217.73 470.77,218.76"/>
<polygon fill="#63c600" points="503.69,240.31 511.50,239.22 508.25,231.28 500.50,232.24"/>
<polygon fill="#47be00" points="533.70,252.63 541.32,251.61 537.78,244.11 530.22,245.01"/>
<polygon fill="#36b800" points="563.76,264.26 571.19,263.31 567.34,256.26 559.97,257.09"/>
<polygon fill="#76cb00" points="484.72,234.50 492.66,233.32 489.58,225.08 481.69,226.13"/>
<polygon fill="#59c300" points="514.80,247.13 522.56,246.02 519.20,238.24 511.50,239.22"/>
<polygon fill="#3ebb00" points="544.92,259.06 552.49,258.02 548.83,250.69 541.32,251.61"/>
<polygon fill="#80ce00" points="465.62,228.57 473.70,227.30 470.77,218.76 462.75,219.91"/>
<polygon fill="#63c600" points="495.80,241.52 503.69,240.31 500.50,232.24 492.66,233.32"/>
<polygon fill="#50c000" points="525.98,253.76 533.70,252.63 530.22,245.01 522.56,246.02"/>
<polygon fill="#36b800" points="556.23,265.32 563.76,264.26 559.97,257.09 552.49,258.02"/>
<polygon fill="#76cb00" points="476.68,235.80 484.72,234.50 481.69,226.13 473.70,227.30"/>
<polygon fill="#59c300" points="506.94,248.36 514.80,247.13 511.50,239.22 503.69,240.31"/>
<polygon fill="#3ebb00" points="537.25,260.22 544.92,259.06 541.32,251.61 533.70,252.63"/>
<polygon fill="#63c600" points="487.80,242.84 495.80,241.52 492.66,233.32 484.72,234.50"/>
<polygon fill="#50c000" points="518.17,255.01 525.98,253.76 522.56,246.02 514.80,247.13"/>
<polygon fill="#36b800" points="548.60,266.49 556.23,265.32 552.49,258.02 544.92,259.06"/>
<polygon fill="#76cb00" points="468.54,237.21 476.68,235.80 473.70,227.30 465.62,228.57"/>
<polygon fill="#59c300" points="498.99,249.69 506.94,248.36 503.69,240.31 495.80,241.52"/>
<polygon fill="#47be00" points="529.48,261.48 537.25,260.22 533.70,252.63 525.98,253.76"/>
<polygon fill="#6cc800" points="479.70,244.27 487.80,242.84 484.72,234.50 476.68,235.80"/>
<polygon fill="#50c000" points="510.25,256.37 518.17,255.01 514.80,247.13 506.94,248.36"/>
<polygon fill="#36b800" points="540.87,267.77 548.60,266.49 544.92,259.06 537.25,260.22"/>
<polygon fill="#59c300" points="490.93,251.15 498.99,249.69 495.80,241.52 487.80,242.84"/>
<polygon fill="#47be00" points="521.60,262.86 529.48,261.48 525.98,253.76 518.17,255.01"/>
<polygon fill="#6cc800" points="471.51,245.82 479.70,244.27 476.68,235.80 468.54,237.21"/>
<polygon fill="#50c000" points="502.24,257.84 510.25,256.37 506.94,248.36 498.99,249.69"/>
<polygon fill="#3ebb00" points="533.04,269.17 540.87,267.77 537.25,260.22 529.48,261.48"/>
<polygon fill="#59c300" points="482.78,252.72 490.93,251.15 487.80,242.84 479.70,244.27"/>
<polygon fill="#47be00" points="513.63,264.36 521.60,262.86 518.17,255.01 510.25,256.37"/>
<polygon fill="#50c000" points="494.13,259.44 502.24,257.84 498.99,249.69 490.93,251.15"/>
<polygon fill="#3ebb00" points="525.11,270.69 533.04,269.17 529.48,261.48 521.60,262.86"/>
<polygon fill="#59c300" points="474.53,254.41 482.78,252.72 479.70,244.27 471.51,245.82"/>
<polygon fill="#47be00" points="505.56,265.97 513.63,264.36 510.25,256.37 502.24,257.84"/>
<polygon fill="#50c000" points="485.91,261.15 494.13,259.44 490.93,251.15 482.78,252.72"/>
<polygon fill="#3ebb00" points="517.07,272.32 525.11,270.69 521.60,262.86 513.63,264.36"/>
<polygon fill="#47be00" points="497.38,267.70 505.56,265.97 502.24,257.84 494.13,259.44"/>
<polygon fill="#50c000" points="477.60,262.98 485.91,261.15 482.78,252.72 474.53,254.41"/>
<polygon fill="#3ebb00" points="508.94,274.07 517.07,272.32 513.63,264.36 505.56,265.97"/>
<polygon fill="#47be00" points="489.10,269.56 497.38,267.70 494.13,259.44 485.91,261.15"/>
<polygon fill="#3ebb00" points="500.70,275.95 508.94,274.07 505.56,265.97 497.38,267.70"/>
<polygon fill="#47be00" points="480.72,271.54 489.10,269.56 485.91,261.15 477.60,262.98"/>
<polygon fill="#3ebb00" points="492.35,277.95 500.70,275.95 497.38,267.70 489.10,269.56"/>
<polygon fill="#3ebb00" points="483.91,280.07 492.35,277.95 489.10,269.56 480.72,271.54"/>
</g>
<g stroke="#111" stroke-width="0.8" stroke-dasharray="1,1.5" fill="none">
<line x1="476.82" y1="95.37" x2="416.44" y2="55.70" />
<line x1="476.82" y1="95.37" x2="681.47" y2="73.64" />
<line x1="485.08" y1="310.50" x2="476.82" y2="95.37" />
</g>
<g stroke="#2a2a2a" stroke-width="0.8" fill="none">
<line x1="485.08" y1="310.50" x2="664.84" y2="262.27" />
<line x1="485.08" y1="310.50" x2="428.70" y2="220.91" />
<line x1="485.08" y1="310.50" x2="487.56" y2="319.73" />
<line x1="535.08" y1="297.08" x2="537.76" y2="305.89" />
<line x1="581.46" y1="284.64" x2="584.30" y2="293.05" />
<line x1="624.60" y1="273.06" x2="627.58" y2="281.12" />
<line x1="664.84" y1="262.27" x2="667.93" y2="270.00" />
<line x1="485.08" y1="310.50" x2="479.05" y2="317.76" />
<line x1="470.67" y1="287.61" x2="465.03" y2="294.39" />
<line x1="458.01" y1="267.48" x2="452.69" y2="273.84" />
<line x1="446.78" y1="249.63" x2="441.76" y2="255.62" />
<line x1="436.75" y1="233.70" x2="432.00" y2="239.36" />
<line x1="427.71" y1="207.49" x2="421.54" y2="206.46" />
<line x1="425.48" y1="177.46" x2="419.20" y2="176.54" />
<line x1="423.16" y1="146.20" x2="416.76" y2="145.39" />
<line x1="420.74" y1="113.62" x2="414.22" y2="112.94" />
<line x1="418.22" y1="79.65" x2="411.57" y2="79.10" />
</g>
<g font-family="Liberation Sans, sans-serif" font-size="13.1" fill="#111" stroke="#111" stroke-width="0.22" text-anchor="middle">
<text x="35.30" y="94.70">15</text>
<text x="40.35" y="145.80">10</text>
<text x="48.75" y="194.30">5</text>
<text x="51.55" y="243.55">120</text>
<text x="60.50" y="262.85">97.5</text>
<text x="79.10" y="280.30">75</text>
<text x="82.75" y="300.20">52.5</text>
<text x="101.80" y="321.45">30</text>
<text x="128.95" y="332.60">15</text>
<text x="176.35" y="316.65">20</text>
<text x="220.95" y="303.60">25</text>
<text x="261.95" y="292.40">30</text>
<text x="302.50" y="284.55">35</text>
</g>
<g font-family="Liberation Sans, sans-serif" font-size="13.1" fill="#111" stroke="#111" stroke-width="0.22" text-anchor="middle">
<text x="399.75" y="85.30">4.5</text>
<text x="400.75" y="117.95">4.0</text>
<text x="402.95" y="151.70">3.5</text>
<text x="406.65" y="183.10">3.0</text>
<text x="409.20" y="213.20">2.5</text>
<text x="416.20" y="247.45">120</text>
<text x="425.55" y="264.70">97.5</text>
<text x="442.05" y="283.40">75</text>
<text x="450.25" y="305.95">52.5</text>
<text x="467.60" y="327.30">30</text>
<text x="494.95" y="337.20">15</text>
<text x="542.85" y="322.25">20</text>
<text x="590.75" y="309.55">25</text>
<text x="633.70" y="297.55">30</text>
<text x="672.80" y="285.60">35</text>
</g>
<g font-family="Liberation Sans, sans-serif" font-size="15.8" fill="#111" stroke="#111" stroke-width="0.15">
<text transform="translate(166.4,338.5) rotate(-14.7)" textLength="125.5" lengthAdjust="spacingAndGlyphs">Temperature (°C)</text>
<text transform="translate(532.5,342.8) rotate(-14.7)" textLength="123.2" lengthAdjust="spacingAndGlyphs">Temperature (°C)</text>
<text transform="translate(27,268) rotate(57.8)" textLength="64.5" lengthAdjust="spacingAndGlyphs">C/N (g/g)</text>
<text transform="translate(386,261) rotate(57.8)" textLength="64.5" lengthAdjust="spacingAndGlyphs">C/N (g/g)</text>
<text transform="translate(4.0,57.3) rotate(84.6)" textLength="164" lengthAdjust="spacingAndGlyphs">Lipid Content % (w/w)</text>
<text transform="translate(364.5,80.5) rotate(85)" textLength="130" lengthAdjust="spacingAndGlyphs">Biomass (g dcw/L)</text>
</g>
<rect x="69.9" y="3.3" width="129.6" height="20.8" fill="#fff" stroke="#333" stroke-width="1"/>
<text x="86.3" y="19.3" font-family="Liberation Serif, serif" font-size="14.2" fill="#111" textLength="98.5" lengthAdjust="spacingAndGlyphs">C/N 140, 21 °C</text>
<polyline points="136,24.1 136,41.5 110.3,41.5 110.3,52" fill="none" stroke="#333" stroke-width="0.9"/>
<polygon points="110.3,56.5 107.3,51.3 113.3,51.3" fill="#333"/>
</svg></body></html>
